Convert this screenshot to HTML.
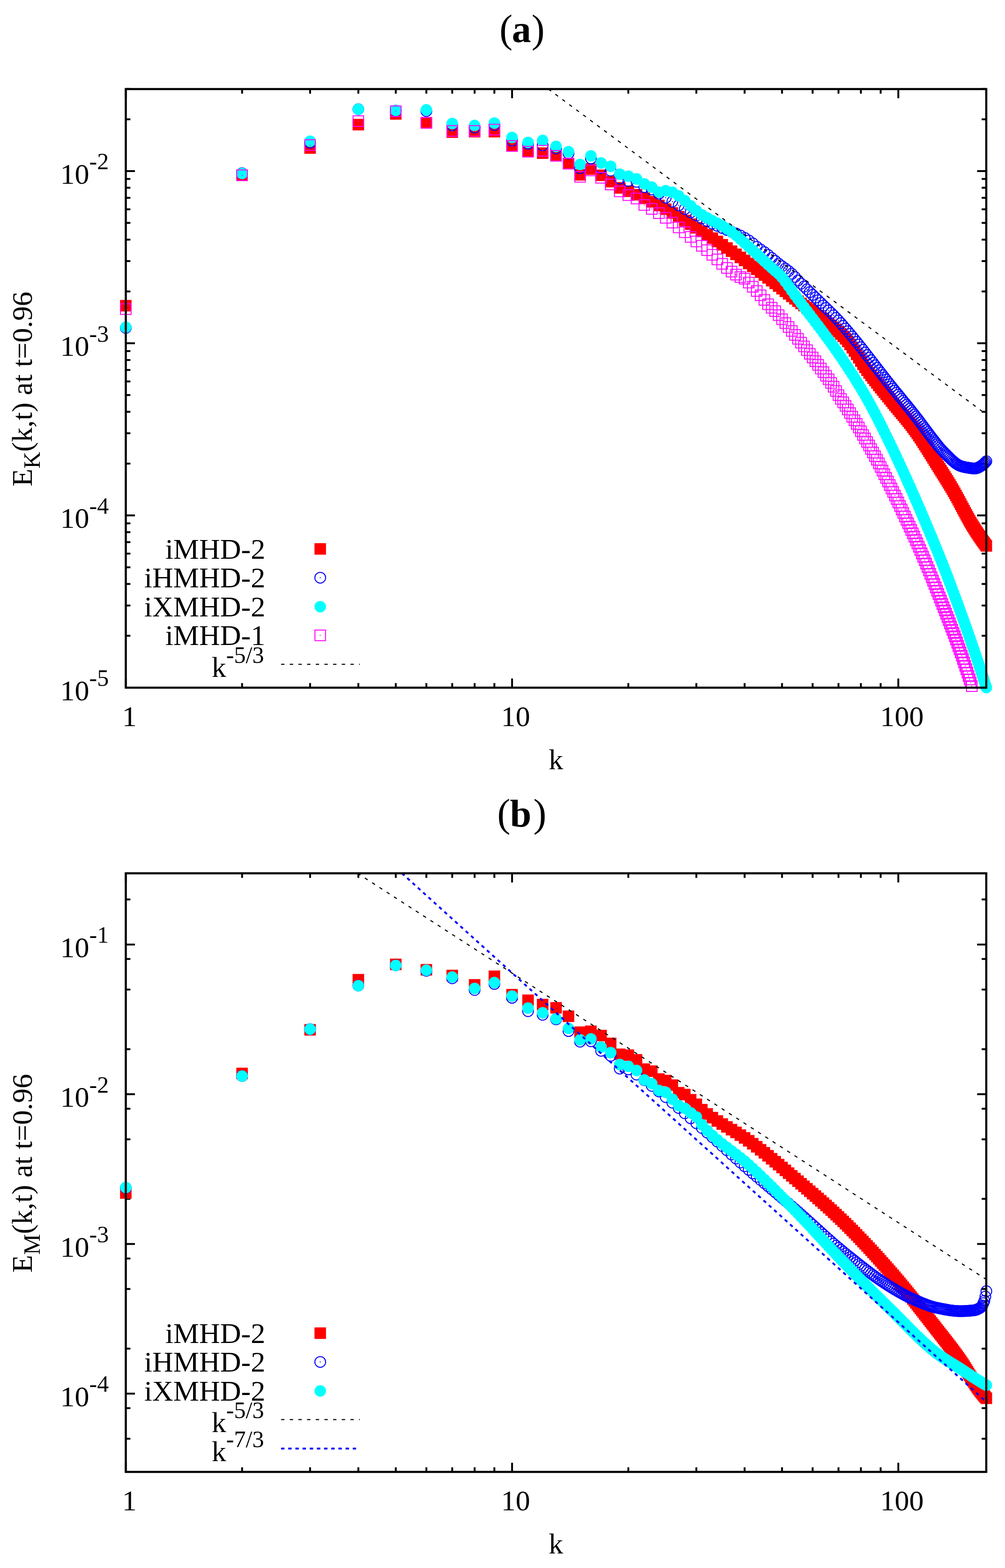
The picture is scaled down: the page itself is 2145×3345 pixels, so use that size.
<!DOCTYPE html><html><head><meta charset="utf-8"><title>Energy spectra</title><style>html,body{margin:0;padding:0;background:#fff;}svg{display:block;}text{font-family:'Liberation Serif', 'Times New Roman', serif;fill:#000;}</style></head><body><svg width="2145" height="3345" viewBox="0 0 2145 3345"><rect width="2145" height="3345" fill="#fff"/><path d="M268.5 1467V1447.5M268.5 190V209.5M516.67 1467V1457.2M516.67 190V199.8M661.84 1467V1457.2M661.84 190V199.8M764.84 1467V1457.2M764.84 190V199.8M844.73 1467V1457.2M844.73 190V199.8M910.01 1467V1457.2M910.01 190V199.8M965.2 1467V1457.2M965.2 190V199.8M1013.01 1467V1457.2M1013.01 190V199.8M1055.18 1467V1457.2M1055.18 190V199.8M1092.9 1467V1447.5M1092.9 190V209.5M1341.07 1467V1457.2M1341.07 190V199.8M1486.24 1467V1457.2M1486.24 190V199.8M1589.24 1467V1457.2M1589.24 190V199.8M1669.13 1467V1457.2M1669.13 190V199.8M1734.41 1467V1457.2M1734.41 190V199.8M1789.6 1467V1457.2M1789.6 190V199.8M1837.41 1467V1457.2M1837.41 190V199.8M1879.58 1467V1457.2M1879.58 190V199.8M1917.3 1467V1447.5M1917.3 190V209.5M268.5 1466.9H288M2105 1466.9H2085.5M268.5 1099.6H288M2105 1099.6H2085.5M268.5 732.3H288M2105 732.3H2085.5M268.5 365H288M2105 365H2085.5M268.5 1356.33H278.3M2105 1356.33H2095.2M268.5 1291.65H278.3M2105 1291.65H2095.2M268.5 1245.76H278.3M2105 1245.76H2095.2M268.5 1210.17H278.3M2105 1210.17H2095.2M268.5 1181.09H278.3M2105 1181.09H2095.2M268.5 1156.5H278.3M2105 1156.5H2095.2M268.5 1135.2H278.3M2105 1135.2H2095.2M268.5 1116.41H278.3M2105 1116.41H2095.2M268.5 989.03H278.3M2105 989.03H2095.2M268.5 924.35H278.3M2105 924.35H2095.2M268.5 878.46H278.3M2105 878.46H2095.2M268.5 842.87H278.3M2105 842.87H2095.2M268.5 813.79H278.3M2105 813.79H2095.2M268.5 789.2H278.3M2105 789.2H2095.2M268.5 767.9H278.3M2105 767.9H2095.2M268.5 749.11H278.3M2105 749.11H2095.2M268.5 621.73H278.3M2105 621.73H2095.2M268.5 557.05H278.3M2105 557.05H2095.2M268.5 511.16H278.3M2105 511.16H2095.2M268.5 475.57H278.3M2105 475.57H2095.2M268.5 446.49H278.3M2105 446.49H2095.2M268.5 421.9H278.3M2105 421.9H2095.2M268.5 400.6H278.3M2105 400.6H2095.2M268.5 381.81H278.3M2105 381.81H2095.2M268.5 254.43H278.3M2105 254.43H2095.2M268.5 189.75H278.3M2105 189.75H2095.2" stroke="#000" stroke-width="4" fill="none"/><g fill="#f00"><rect x="256.2" y="639.8" width="24.6" height="24.6"/><rect x="504.37" y="361.7" width="24.6" height="24.6"/><rect x="649.54" y="303.5" width="24.6" height="24.6"/><rect x="752.54" y="253.6" width="24.6" height="24.6"/><rect x="832.43" y="230.7" width="24.6" height="24.6"/><rect x="897.71" y="249.7" width="24.6" height="24.6"/><rect x="952.9" y="269.6" width="24.6" height="24.6"/><rect x="1000.71" y="268.6" width="24.6" height="24.6"/><rect x="1042.88" y="268.6" width="24.6" height="24.6"/><rect x="1080.6" y="298.7" width="24.6" height="24.6"/><rect x="1114.72" y="310.7" width="24.6" height="24.6"/><rect x="1145.88" y="314.4" width="24.6" height="24.6"/><rect x="1174.53" y="319.7" width="24.6" height="24.6"/><rect x="1201.07" y="336.7" width="24.6" height="24.6"/><rect x="1225.77" y="360.7" width="24.6" height="24.6"/><rect x="1248.88" y="348.3" width="24.6" height="24.6"/><rect x="1270.58" y="361.7" width="24.6" height="24.6"/><rect x="1291.05" y="375.1" width="24.6" height="24.6"/><rect x="1310.4" y="388.5" width="24.6" height="24.6"/><rect x="1328.77" y="395.7" width="24.6" height="24.6"/><rect x="1346.24" y="403.15" width="24.6" height="24.6"/><rect x="1362.89" y="410.63" width="24.6" height="24.6"/><rect x="1378.81" y="418.23" width="24.6" height="24.6"/><rect x="1394.05" y="426.01" width="24.6" height="24.6"/><rect x="1408.66" y="433.98" width="24.6" height="24.6"/><rect x="1422.7" y="442.05" width="24.6" height="24.6"/><rect x="1436.22" y="450.12" width="24.6" height="24.6"/><rect x="1449.24" y="458.13" width="24.6" height="24.6"/><rect x="1461.8" y="466.01" width="24.6" height="24.6"/><rect x="1473.94" y="473.71" width="24.6" height="24.6"/><rect x="1485.68" y="481.21" width="24.6" height="24.6"/><rect x="1497.05" y="488.52" width="24.6" height="24.6"/><rect x="1508.06" y="495.74" width="24.6" height="24.6"/><rect x="1518.75" y="502.86" width="24.6" height="24.6"/><rect x="1529.13" y="509.87" width="24.6" height="24.6"/><rect x="1539.22" y="516.78" width="24.6" height="24.6"/><rect x="1549.03" y="523.59" width="24.6" height="24.6"/><rect x="1558.57" y="530.28" width="24.6" height="24.6"/><rect x="1567.87" y="536.87" width="24.6" height="24.6"/><rect x="1576.94" y="543.34" width="24.6" height="24.6"/><rect x="1585.78" y="549.71" width="24.6" height="24.6"/><rect x="1594.41" y="555.99" width="24.6" height="24.6"/><rect x="1602.83" y="562.21" width="24.6" height="24.6"/><rect x="1611.06" y="568.37" width="24.6" height="24.6"/><rect x="1619.11" y="574.46" width="24.6" height="24.6"/><rect x="1626.98" y="580.47" width="24.6" height="24.6"/><rect x="1634.68" y="586.4" width="24.6" height="24.6"/><rect x="1642.22" y="592.23" width="24.6" height="24.6"/><rect x="1649.6" y="597.97" width="24.6" height="24.6"/><rect x="1656.83" y="603.61" width="24.6" height="24.6"/><rect x="1663.92" y="609.15" width="24.6" height="24.6"/><rect x="1670.87" y="614.58" width="24.6" height="24.6"/><rect x="1677.69" y="619.91" width="24.6" height="24.6"/><rect x="1684.39" y="625.12" width="24.6" height="24.6"/><rect x="1690.96" y="630.2" width="24.6" height="24.6"/><rect x="1697.41" y="635.04" width="24.6" height="24.6"/><rect x="1703.74" y="639.64" width="24.6" height="24.6"/><rect x="1709.97" y="644.07" width="24.6" height="24.6"/><rect x="1716.09" y="648.36" width="24.6" height="24.6"/><rect x="1722.11" y="652.55" width="24.6" height="24.6"/><rect x="1728.03" y="656.69" width="24.6" height="24.6"/><rect x="1733.85" y="660.78" width="24.6" height="24.6"/><rect x="1739.58" y="664.88" width="24.6" height="24.6"/><rect x="1745.21" y="669" width="24.6" height="24.6"/><rect x="1750.77" y="673.17" width="24.6" height="24.6"/><rect x="1756.23" y="677.4" width="24.6" height="24.6"/><rect x="1761.62" y="681.72" width="24.6" height="24.6"/><rect x="1766.92" y="686.15" width="24.6" height="24.6"/><rect x="1772.15" y="690.7" width="24.6" height="24.6"/><rect x="1777.3" y="695.38" width="24.6" height="24.6"/><rect x="1782.38" y="700.21" width="24.6" height="24.6"/><rect x="1787.38" y="705.2" width="24.6" height="24.6"/><rect x="1792.32" y="710.37" width="24.6" height="24.6"/><rect x="1797.19" y="716.09" width="24.6" height="24.6"/><rect x="1802" y="722.45" width="24.6" height="24.6"/><rect x="1806.74" y="729.27" width="24.6" height="24.6"/><rect x="1811.42" y="736.39" width="24.6" height="24.6"/><rect x="1816.04" y="743.65" width="24.6" height="24.6"/><rect x="1820.6" y="750.91" width="24.6" height="24.6"/><rect x="1825.11" y="758.05" width="24.6" height="24.6"/><rect x="1829.56" y="764.93" width="24.6" height="24.6"/><rect x="1833.95" y="771.44" width="24.6" height="24.6"/><rect x="1838.29" y="777.5" width="24.6" height="24.6"/><rect x="1842.58" y="783.23" width="24.6" height="24.6"/><rect x="1846.81" y="788.8" width="24.6" height="24.6"/><rect x="1851" y="794.22" width="24.6" height="24.6"/><rect x="1855.14" y="799.5" width="24.6" height="24.6"/><rect x="1859.23" y="804.66" width="24.6" height="24.6"/><rect x="1863.28" y="809.72" width="24.6" height="24.6"/><rect x="1867.28" y="814.69" width="24.6" height="24.6"/><rect x="1871.23" y="819.58" width="24.6" height="24.6"/><rect x="1875.15" y="824.41" width="24.6" height="24.6"/><rect x="1879.02" y="829.19" width="24.6" height="24.6"/><rect x="1882.85" y="833.92" width="24.6" height="24.6"/><rect x="1886.64" y="838.62" width="24.6" height="24.6"/><rect x="1890.38" y="843.29" width="24.6" height="24.6"/><rect x="1894.09" y="847.83" width="24.6" height="24.6"/><rect x="1897.77" y="852.27" width="24.6" height="24.6"/><rect x="1901.4" y="856.62" width="24.6" height="24.6"/><rect x="1905" y="860.9" width="24.6" height="24.6"/><rect x="1908.56" y="865.12" width="24.6" height="24.6"/><rect x="1912.09" y="869.31" width="24.6" height="24.6"/><rect x="1915.58" y="873.49" width="24.6" height="24.6"/><rect x="1919.04" y="877.66" width="24.6" height="24.6"/><rect x="1922.47" y="881.84" width="24.6" height="24.6"/><rect x="1925.86" y="886.05" width="24.6" height="24.6"/><rect x="1929.22" y="890.29" width="24.6" height="24.6"/><rect x="1932.55" y="894.59" width="24.6" height="24.6"/><rect x="1935.85" y="898.94" width="24.6" height="24.6"/><rect x="1939.12" y="903.37" width="24.6" height="24.6"/><rect x="1942.36" y="907.87" width="24.6" height="24.6"/><rect x="1945.58" y="912.45" width="24.6" height="24.6"/><rect x="1948.76" y="917.08" width="24.6" height="24.6"/><rect x="1951.91" y="921.76" width="24.6" height="24.6"/><rect x="1955.04" y="926.47" width="24.6" height="24.6"/><rect x="1958.14" y="931.22" width="24.6" height="24.6"/><rect x="1961.21" y="935.98" width="24.6" height="24.6"/><rect x="1964.26" y="940.75" width="24.6" height="24.6"/><rect x="1967.28" y="945.53" width="24.6" height="24.6"/><rect x="1970.28" y="950.3" width="24.6" height="24.6"/><rect x="1973.25" y="955.05" width="24.6" height="24.6"/><rect x="1976.2" y="959.79" width="24.6" height="24.6"/><rect x="1979.12" y="964.5" width="24.6" height="24.6"/><rect x="1982.02" y="969.18" width="24.6" height="24.6"/><rect x="1984.89" y="973.82" width="24.6" height="24.6"/><rect x="1987.75" y="978.41" width="24.6" height="24.6"/><rect x="1990.58" y="982.96" width="24.6" height="24.6"/><rect x="1993.38" y="987.45" width="24.6" height="24.6"/><rect x="1996.17" y="991.88" width="24.6" height="24.6"/><rect x="1998.93" y="996.27" width="24.6" height="24.6"/><rect x="2001.68" y="1000.63" width="24.6" height="24.6"/><rect x="2004.4" y="1004.97" width="24.6" height="24.6"/><rect x="2007.1" y="1009.29" width="24.6" height="24.6"/><rect x="2009.79" y="1013.62" width="24.6" height="24.6"/><rect x="2012.45" y="1017.94" width="24.6" height="24.6"/><rect x="2015.09" y="1022.28" width="24.6" height="24.6"/><rect x="2017.71" y="1026.64" width="24.6" height="24.6"/><rect x="2020.32" y="1031.03" width="24.6" height="24.6"/><rect x="2022.9" y="1035.46" width="24.6" height="24.6"/><rect x="2025.47" y="1039.97" width="24.6" height="24.6"/><rect x="2028.02" y="1044.56" width="24.6" height="24.6"/><rect x="2030.55" y="1049.19" width="24.6" height="24.6"/><rect x="2033.06" y="1053.86" width="24.6" height="24.6"/><rect x="2035.55" y="1058.54" width="24.6" height="24.6"/><rect x="2038.03" y="1063.22" width="24.6" height="24.6"/><rect x="2040.49" y="1067.88" width="24.6" height="24.6"/><rect x="2042.94" y="1072.51" width="24.6" height="24.6"/><rect x="2045.36" y="1077.09" width="24.6" height="24.6"/><rect x="2047.77" y="1081.61" width="24.6" height="24.6"/><rect x="2050.17" y="1086.05" width="24.6" height="24.6"/><rect x="2052.55" y="1090.4" width="24.6" height="24.6"/><rect x="2054.91" y="1094.65" width="24.6" height="24.6"/><rect x="2057.26" y="1098.79" width="24.6" height="24.6"/><rect x="2059.59" y="1102.8" width="24.6" height="24.6"/><rect x="2061.91" y="1106.67" width="24.6" height="24.6"/><rect x="2064.21" y="1110.4" width="24.6" height="24.6"/><rect x="2066.5" y="1114.04" width="24.6" height="24.6"/><rect x="2068.77" y="1117.61" width="24.6" height="24.6"/><rect x="2071.03" y="1121.1" width="24.6" height="24.6"/><rect x="2073.28" y="1124.52" width="24.6" height="24.6"/><rect x="2075.51" y="1127.87" width="24.6" height="24.6"/><rect x="2077.72" y="1131.15" width="24.6" height="24.6"/><rect x="2079.93" y="1134.36" width="24.6" height="24.6"/><rect x="2082.12" y="1137.5" width="24.6" height="24.6"/><rect x="2084.29" y="1140.58" width="24.6" height="24.6"/><rect x="2086.46" y="1143.59" width="24.6" height="24.6"/><rect x="2088.61" y="1146.54" width="24.6" height="24.6"/><rect x="2090.74" y="1149.43" width="24.6" height="24.6"/><rect x="2092.87" y="1152.26" width="24.6" height="24.6"/></g><g fill="none" stroke="#00f" stroke-width="2"><circle cx="268.5" cy="699.4" r="11.5"/><circle cx="516.67" cy="369.5" r="11.5"/><circle cx="661.84" cy="304.4" r="11.5"/><circle cx="764.84" cy="233" r="11.5"/><circle cx="844.73" cy="236" r="11.5"/><circle cx="910.01" cy="237" r="11.5"/><circle cx="965.2" cy="267.4" r="11.5"/><circle cx="1013.01" cy="272.2" r="11.5"/><circle cx="1055.18" cy="266.4" r="11.5"/><circle cx="1092.9" cy="300.1" r="11.5"/><circle cx="1127.02" cy="306.7" r="11.5"/><circle cx="1158.18" cy="310.2" r="11.5"/><circle cx="1186.83" cy="316.7" r="11.5"/><circle cx="1213.37" cy="327.4" r="11.5"/><circle cx="1238.07" cy="358.9" r="11.5"/><circle cx="1261.18" cy="338.1" r="11.5"/><circle cx="1282.88" cy="358.2" r="11.5"/><circle cx="1303.35" cy="364" r="11.5"/><circle cx="1322.7" cy="380.9" r="11.5"/><circle cx="1341.07" cy="385.8" r="11.5"/><circle cx="1358.54" cy="387.8" r="11.5"/><circle cx="1375.19" cy="399.1" r="11.5"/><circle cx="1391.11" cy="404.3" r="11.5"/><circle cx="1406.35" cy="413.1" r="11.5"/><circle cx="1420.96" cy="421.66" r="11.5"/><circle cx="1435" cy="430.04" r="11.5"/><circle cx="1448.52" cy="438.12" r="11.5"/><circle cx="1461.54" cy="445.81" r="11.5"/><circle cx="1474.1" cy="453.05" r="11.5"/><circle cx="1486.24" cy="459.78" r="11.5"/><circle cx="1497.98" cy="465.97" r="11.5"/><circle cx="1509.35" cy="471.64" r="11.5"/><circle cx="1520.36" cy="476.9" r="11.5"/><circle cx="1531.05" cy="481.79" r="11.5"/><circle cx="1541.43" cy="486.36" r="11.5"/><circle cx="1551.52" cy="490.62" r="11.5"/><circle cx="1561.33" cy="494.31" r="11.5"/><circle cx="1570.87" cy="497.98" r="11.5"/><circle cx="1580.17" cy="502.38" r="11.5"/><circle cx="1589.24" cy="507.4" r="11.5"/><circle cx="1598.08" cy="512.93" r="11.5"/><circle cx="1606.71" cy="519.23" r="11.5"/><circle cx="1615.13" cy="526.38" r="11.5"/><circle cx="1623.36" cy="532.35" r="11.5"/><circle cx="1631.41" cy="537.83" r="11.5"/><circle cx="1639.28" cy="543.85" r="11.5"/><circle cx="1646.98" cy="550.23" r="11.5"/><circle cx="1654.52" cy="556.6" r="11.5"/><circle cx="1661.9" cy="562.62" r="11.5"/><circle cx="1669.13" cy="568.01" r="11.5"/><circle cx="1676.22" cy="573.04" r="11.5"/><circle cx="1683.17" cy="578.24" r="11.5"/><circle cx="1689.99" cy="584.04" r="11.5"/><circle cx="1696.69" cy="590.88" r="11.5"/><circle cx="1703.26" cy="598.13" r="11.5"/><circle cx="1709.71" cy="605.01" r="11.5"/><circle cx="1716.04" cy="611.26" r="11.5"/><circle cx="1722.27" cy="617.26" r="11.5"/><circle cx="1728.39" cy="623.18" r="11.5"/><circle cx="1734.41" cy="629.06" r="11.5"/><circle cx="1740.33" cy="634.85" r="11.5"/><circle cx="1746.15" cy="640.55" r="11.5"/><circle cx="1751.88" cy="646.17" r="11.5"/><circle cx="1757.51" cy="651.71" r="11.5"/><circle cx="1763.07" cy="657.09" r="11.5"/><circle cx="1768.53" cy="662.35" r="11.5"/><circle cx="1773.92" cy="667.57" r="11.5"/><circle cx="1779.22" cy="672.84" r="11.5"/><circle cx="1784.45" cy="678.25" r="11.5"/><circle cx="1789.6" cy="683.81" r="11.5"/><circle cx="1794.68" cy="689.46" r="11.5"/><circle cx="1799.68" cy="695.17" r="11.5"/><circle cx="1804.62" cy="700.92" r="11.5"/><circle cx="1809.49" cy="706.68" r="11.5"/><circle cx="1814.3" cy="712.41" r="11.5"/><circle cx="1819.04" cy="718.09" r="11.5"/><circle cx="1823.72" cy="723.76" r="11.5"/><circle cx="1828.34" cy="729.42" r="11.5"/><circle cx="1832.9" cy="735.09" r="11.5"/><circle cx="1837.41" cy="740.74" r="11.5"/><circle cx="1841.86" cy="746.37" r="11.5"/><circle cx="1846.25" cy="751.97" r="11.5"/><circle cx="1850.59" cy="757.54" r="11.5"/><circle cx="1854.88" cy="763.06" r="11.5"/><circle cx="1859.11" cy="768.54" r="11.5"/><circle cx="1863.3" cy="773.96" r="11.5"/><circle cx="1867.44" cy="779.33" r="11.5"/><circle cx="1871.53" cy="784.64" r="11.5"/><circle cx="1875.58" cy="789.88" r="11.5"/><circle cx="1879.58" cy="795.04" r="11.5"/><circle cx="1883.53" cy="800.14" r="11.5"/><circle cx="1887.45" cy="805.16" r="11.5"/><circle cx="1891.32" cy="810.09" r="11.5"/><circle cx="1895.15" cy="814.95" r="11.5"/><circle cx="1898.94" cy="819.72" r="11.5"/><circle cx="1902.68" cy="824.4" r="11.5"/><circle cx="1906.39" cy="828.99" r="11.5"/><circle cx="1910.07" cy="833.51" r="11.5"/><circle cx="1913.7" cy="837.96" r="11.5"/><circle cx="1917.3" cy="842.35" r="11.5"/><circle cx="1920.86" cy="846.68" r="11.5"/><circle cx="1924.39" cy="850.97" r="11.5"/><circle cx="1927.88" cy="855.22" r="11.5"/><circle cx="1931.34" cy="859.44" r="11.5"/><circle cx="1934.77" cy="863.63" r="11.5"/><circle cx="1938.16" cy="867.8" r="11.5"/><circle cx="1941.52" cy="871.95" r="11.5"/><circle cx="1944.85" cy="876.09" r="11.5"/><circle cx="1948.15" cy="880.22" r="11.5"/><circle cx="1951.42" cy="884.36" r="11.5"/><circle cx="1954.66" cy="888.51" r="11.5"/><circle cx="1957.88" cy="892.68" r="11.5"/><circle cx="1961.06" cy="896.87" r="11.5"/><circle cx="1964.21" cy="901.06" r="11.5"/><circle cx="1967.34" cy="905.24" r="11.5"/><circle cx="1970.44" cy="909.4" r="11.5"/><circle cx="1973.51" cy="913.53" r="11.5"/><circle cx="1976.56" cy="917.62" r="11.5"/><circle cx="1979.58" cy="921.67" r="11.5"/><circle cx="1982.58" cy="925.66" r="11.5"/><circle cx="1985.55" cy="929.59" r="11.5"/><circle cx="1988.5" cy="933.45" r="11.5"/><circle cx="1991.42" cy="937.23" r="11.5"/><circle cx="1994.32" cy="940.93" r="11.5"/><circle cx="1997.19" cy="944.54" r="11.5"/><circle cx="2000.05" cy="948.06" r="11.5"/><circle cx="2002.88" cy="951.54" r="11.5"/><circle cx="2005.68" cy="954.97" r="11.5"/><circle cx="2008.47" cy="958.24" r="11.5"/><circle cx="2011.23" cy="961.23" r="11.5"/><circle cx="2013.98" cy="963.97" r="11.5"/><circle cx="2016.7" cy="966.72" r="11.5"/><circle cx="2019.4" cy="969.48" r="11.5"/><circle cx="2022.09" cy="972.22" r="11.5"/><circle cx="2024.75" cy="974.91" r="11.5"/><circle cx="2027.39" cy="977.53" r="11.5"/><circle cx="2030.01" cy="980.05" r="11.5"/><circle cx="2032.62" cy="982.45" r="11.5"/><circle cx="2035.2" cy="984.71" r="11.5"/><circle cx="2037.77" cy="986.8" r="11.5"/><circle cx="2040.32" cy="988.72" r="11.5"/><circle cx="2042.85" cy="990.44" r="11.5"/><circle cx="2045.36" cy="991.94" r="11.5"/><circle cx="2047.85" cy="993.21" r="11.5"/><circle cx="2050.33" cy="994.22" r="11.5"/><circle cx="2052.79" cy="994.97" r="11.5"/><circle cx="2055.24" cy="995.56" r="11.5"/><circle cx="2057.66" cy="996.13" r="11.5"/><circle cx="2060.07" cy="996.66" r="11.5"/><circle cx="2062.47" cy="997.16" r="11.5"/><circle cx="2064.85" cy="997.62" r="11.5"/><circle cx="2067.21" cy="998.03" r="11.5"/><circle cx="2069.56" cy="998.39" r="11.5"/><circle cx="2071.89" cy="998.7" r="11.5"/><circle cx="2074.21" cy="998.95" r="11.5"/><circle cx="2076.51" cy="999.13" r="11.5"/><circle cx="2078.8" cy="999.25" r="11.5"/><circle cx="2081.07" cy="999.3" r="11.5"/><circle cx="2083.33" cy="999.12" r="11.5"/><circle cx="2085.58" cy="998.52" r="11.5"/><circle cx="2087.81" cy="997.58" r="11.5"/><circle cx="2090.02" cy="996.41" r="11.5"/><circle cx="2092.23" cy="995.08" r="11.5"/><circle cx="2094.42" cy="993.7" r="11.5"/><circle cx="2096.59" cy="992.31" r="11.5"/><circle cx="2098.76" cy="990.61" r="11.5"/><circle cx="2100.91" cy="988.61" r="11.5"/><circle cx="2103.04" cy="986.39" r="11.5"/><circle cx="2105.17" cy="984.03" r="11.5"/></g><g fill="#00f"><rect x="267.5" y="698.4" width="2" height="2"/><rect x="515.67" y="368.5" width="2" height="2"/><rect x="660.84" y="303.4" width="2" height="2"/><rect x="763.84" y="232" width="2" height="2"/><rect x="843.73" y="235" width="2" height="2"/><rect x="909.01" y="236" width="2" height="2"/><rect x="964.2" y="266.4" width="2" height="2"/><rect x="1012.01" y="271.2" width="2" height="2"/><rect x="1054.18" y="265.4" width="2" height="2"/><rect x="1091.9" y="299.1" width="2" height="2"/><rect x="1126.02" y="305.7" width="2" height="2"/><rect x="1157.18" y="309.2" width="2" height="2"/><rect x="1185.83" y="315.7" width="2" height="2"/><rect x="1212.37" y="326.4" width="2" height="2"/><rect x="1237.07" y="357.9" width="2" height="2"/><rect x="1260.18" y="337.1" width="2" height="2"/><rect x="1281.88" y="357.2" width="2" height="2"/><rect x="1302.35" y="363" width="2" height="2"/><rect x="1321.7" y="379.9" width="2" height="2"/><rect x="1340.07" y="384.8" width="2" height="2"/><rect x="1357.54" y="386.8" width="2" height="2"/><rect x="1374.19" y="398.1" width="2" height="2"/><rect x="1390.11" y="403.3" width="2" height="2"/><rect x="1405.35" y="412.1" width="2" height="2"/><rect x="1419.96" y="420.66" width="2" height="2"/><rect x="1434" y="429.04" width="2" height="2"/><rect x="1447.52" y="437.12" width="2" height="2"/><rect x="1460.54" y="444.81" width="2" height="2"/><rect x="1473.1" y="452.05" width="2" height="2"/><rect x="1485.24" y="458.78" width="2" height="2"/><rect x="1496.98" y="464.97" width="2" height="2"/><rect x="1508.35" y="470.64" width="2" height="2"/><rect x="1519.36" y="475.9" width="2" height="2"/><rect x="1530.05" y="480.79" width="2" height="2"/><rect x="1540.43" y="485.36" width="2" height="2"/><rect x="1550.52" y="489.62" width="2" height="2"/><rect x="1560.33" y="493.31" width="2" height="2"/><rect x="1569.87" y="496.98" width="2" height="2"/><rect x="1579.17" y="501.38" width="2" height="2"/><rect x="1588.24" y="506.4" width="2" height="2"/><rect x="1597.08" y="511.93" width="2" height="2"/><rect x="1605.71" y="518.23" width="2" height="2"/><rect x="1614.13" y="525.38" width="2" height="2"/><rect x="1622.36" y="531.35" width="2" height="2"/><rect x="1630.41" y="536.83" width="2" height="2"/><rect x="1638.28" y="542.85" width="2" height="2"/><rect x="1645.98" y="549.23" width="2" height="2"/><rect x="1653.52" y="555.6" width="2" height="2"/><rect x="1660.9" y="561.62" width="2" height="2"/><rect x="1668.13" y="567.01" width="2" height="2"/><rect x="1675.22" y="572.04" width="2" height="2"/><rect x="1682.17" y="577.24" width="2" height="2"/><rect x="1688.99" y="583.04" width="2" height="2"/><rect x="1695.69" y="589.88" width="2" height="2"/><rect x="1702.26" y="597.13" width="2" height="2"/><rect x="1708.71" y="604.01" width="2" height="2"/><rect x="1715.04" y="610.26" width="2" height="2"/><rect x="1721.27" y="616.26" width="2" height="2"/><rect x="1727.39" y="622.18" width="2" height="2"/><rect x="1733.41" y="628.06" width="2" height="2"/><rect x="1739.33" y="633.85" width="2" height="2"/><rect x="1745.15" y="639.55" width="2" height="2"/><rect x="1750.88" y="645.17" width="2" height="2"/><rect x="1756.51" y="650.71" width="2" height="2"/><rect x="1762.07" y="656.09" width="2" height="2"/><rect x="1767.53" y="661.35" width="2" height="2"/><rect x="1772.92" y="666.57" width="2" height="2"/><rect x="1778.22" y="671.84" width="2" height="2"/><rect x="1783.45" y="677.25" width="2" height="2"/><rect x="1788.6" y="682.81" width="2" height="2"/><rect x="1793.68" y="688.46" width="2" height="2"/><rect x="1798.68" y="694.17" width="2" height="2"/><rect x="1803.62" y="699.92" width="2" height="2"/><rect x="1808.49" y="705.68" width="2" height="2"/><rect x="1813.3" y="711.41" width="2" height="2"/><rect x="1818.04" y="717.09" width="2" height="2"/><rect x="1822.72" y="722.76" width="2" height="2"/><rect x="1827.34" y="728.42" width="2" height="2"/><rect x="1831.9" y="734.09" width="2" height="2"/><rect x="1836.41" y="739.74" width="2" height="2"/><rect x="1840.86" y="745.37" width="2" height="2"/><rect x="1845.25" y="750.97" width="2" height="2"/><rect x="1849.59" y="756.54" width="2" height="2"/><rect x="1853.88" y="762.06" width="2" height="2"/><rect x="1858.11" y="767.54" width="2" height="2"/><rect x="1862.3" y="772.96" width="2" height="2"/><rect x="1866.44" y="778.33" width="2" height="2"/><rect x="1870.53" y="783.64" width="2" height="2"/><rect x="1874.58" y="788.88" width="2" height="2"/><rect x="1878.58" y="794.04" width="2" height="2"/><rect x="1882.53" y="799.14" width="2" height="2"/><rect x="1886.45" y="804.16" width="2" height="2"/><rect x="1890.32" y="809.09" width="2" height="2"/><rect x="1894.15" y="813.95" width="2" height="2"/><rect x="1897.94" y="818.72" width="2" height="2"/><rect x="1901.68" y="823.4" width="2" height="2"/><rect x="1905.39" y="827.99" width="2" height="2"/><rect x="1909.07" y="832.51" width="2" height="2"/><rect x="1912.7" y="836.96" width="2" height="2"/><rect x="1916.3" y="841.35" width="2" height="2"/><rect x="1919.86" y="845.68" width="2" height="2"/><rect x="1923.39" y="849.97" width="2" height="2"/><rect x="1926.88" y="854.22" width="2" height="2"/><rect x="1930.34" y="858.44" width="2" height="2"/><rect x="1933.77" y="862.63" width="2" height="2"/><rect x="1937.16" y="866.8" width="2" height="2"/><rect x="1940.52" y="870.95" width="2" height="2"/><rect x="1943.85" y="875.09" width="2" height="2"/><rect x="1947.15" y="879.22" width="2" height="2"/><rect x="1950.42" y="883.36" width="2" height="2"/><rect x="1953.66" y="887.51" width="2" height="2"/><rect x="1956.88" y="891.68" width="2" height="2"/><rect x="1960.06" y="895.87" width="2" height="2"/><rect x="1963.21" y="900.06" width="2" height="2"/><rect x="1966.34" y="904.24" width="2" height="2"/><rect x="1969.44" y="908.4" width="2" height="2"/><rect x="1972.51" y="912.53" width="2" height="2"/><rect x="1975.56" y="916.62" width="2" height="2"/><rect x="1978.58" y="920.67" width="2" height="2"/><rect x="1981.58" y="924.66" width="2" height="2"/><rect x="1984.55" y="928.59" width="2" height="2"/><rect x="1987.5" y="932.45" width="2" height="2"/><rect x="1990.42" y="936.23" width="2" height="2"/><rect x="1993.32" y="939.93" width="2" height="2"/><rect x="1996.19" y="943.54" width="2" height="2"/><rect x="1999.05" y="947.06" width="2" height="2"/><rect x="2001.88" y="950.54" width="2" height="2"/><rect x="2004.68" y="953.97" width="2" height="2"/><rect x="2007.47" y="957.24" width="2" height="2"/><rect x="2010.23" y="960.23" width="2" height="2"/><rect x="2012.98" y="962.97" width="2" height="2"/><rect x="2015.7" y="965.72" width="2" height="2"/><rect x="2018.4" y="968.48" width="2" height="2"/><rect x="2021.09" y="971.22" width="2" height="2"/><rect x="2023.75" y="973.91" width="2" height="2"/><rect x="2026.39" y="976.53" width="2" height="2"/><rect x="2029.01" y="979.05" width="2" height="2"/><rect x="2031.62" y="981.45" width="2" height="2"/><rect x="2034.2" y="983.71" width="2" height="2"/><rect x="2036.77" y="985.8" width="2" height="2"/><rect x="2039.32" y="987.72" width="2" height="2"/><rect x="2041.85" y="989.44" width="2" height="2"/><rect x="2044.36" y="990.94" width="2" height="2"/><rect x="2046.85" y="992.21" width="2" height="2"/><rect x="2049.33" y="993.22" width="2" height="2"/><rect x="2051.79" y="993.97" width="2" height="2"/><rect x="2054.24" y="994.56" width="2" height="2"/><rect x="2056.66" y="995.13" width="2" height="2"/><rect x="2059.07" y="995.66" width="2" height="2"/><rect x="2061.47" y="996.16" width="2" height="2"/><rect x="2063.85" y="996.62" width="2" height="2"/><rect x="2066.21" y="997.03" width="2" height="2"/><rect x="2068.56" y="997.39" width="2" height="2"/><rect x="2070.89" y="997.7" width="2" height="2"/><rect x="2073.21" y="997.95" width="2" height="2"/><rect x="2075.51" y="998.13" width="2" height="2"/><rect x="2077.8" y="998.25" width="2" height="2"/><rect x="2080.07" y="998.3" width="2" height="2"/><rect x="2082.33" y="998.12" width="2" height="2"/><rect x="2084.58" y="997.52" width="2" height="2"/><rect x="2086.81" y="996.58" width="2" height="2"/><rect x="2089.02" y="995.41" width="2" height="2"/><rect x="2091.23" y="994.08" width="2" height="2"/><rect x="2093.42" y="992.7" width="2" height="2"/><rect x="2095.59" y="991.31" width="2" height="2"/><rect x="2097.76" y="989.61" width="2" height="2"/><rect x="2099.91" y="987.61" width="2" height="2"/><rect x="2102.04" y="985.39" width="2" height="2"/><rect x="2104.17" y="983.03" width="2" height="2"/></g><g fill="#0ff"><circle cx="268.5" cy="698.1" r="12.3"/><circle cx="516.67" cy="370" r="12.3"/><circle cx="661.84" cy="301.3" r="12.3"/><circle cx="764.84" cy="233" r="12.3"/><circle cx="844.73" cy="235.5" r="12.3"/><circle cx="910.01" cy="234.4" r="12.3"/><circle cx="965.2" cy="263.5" r="12.3"/><circle cx="1013.01" cy="267.6" r="12.3"/><circle cx="1055.18" cy="262.5" r="12.3"/><circle cx="1092.9" cy="293.3" r="12.3"/><circle cx="1127.02" cy="303.7" r="12.3"/><circle cx="1158.18" cy="299.6" r="12.3"/><circle cx="1186.83" cy="312.4" r="12.3"/><circle cx="1213.37" cy="323.5" r="12.3"/><circle cx="1238.07" cy="350.8" r="12.3"/><circle cx="1261.18" cy="332.5" r="12.3"/><circle cx="1282.88" cy="347.5" r="12.3"/><circle cx="1303.35" cy="354.7" r="12.3"/><circle cx="1322.7" cy="371.5" r="12.3"/><circle cx="1341.07" cy="375.8" r="12.3"/><circle cx="1358.54" cy="381.6" r="12.3"/><circle cx="1375.19" cy="392.3" r="12.3"/><circle cx="1391.11" cy="399.1" r="12.3"/><circle cx="1406.35" cy="409.8" r="12.3"/><circle cx="1420.96" cy="406.9" r="12.3"/><circle cx="1435" cy="410.05" r="12.3"/><circle cx="1448.52" cy="417.83" r="12.3"/><circle cx="1461.54" cy="428.11" r="12.3"/><circle cx="1474.1" cy="439.17" r="12.3"/><circle cx="1486.24" cy="449.59" r="12.3"/><circle cx="1497.98" cy="458.24" r="12.3"/><circle cx="1509.35" cy="464.88" r="12.3"/><circle cx="1520.36" cy="470.72" r="12.3"/><circle cx="1531.05" cy="476.24" r="12.3"/><circle cx="1541.43" cy="481.81" r="12.3"/><circle cx="1551.52" cy="487.76" r="12.3"/><circle cx="1561.33" cy="494.36" r="12.3"/><circle cx="1570.87" cy="501.89" r="12.3"/><circle cx="1580.17" cy="509.99" r="12.3"/><circle cx="1589.24" cy="518.25" r="12.3"/><circle cx="1598.08" cy="526.29" r="12.3"/><circle cx="1606.71" cy="534.04" r="12.3"/><circle cx="1615.13" cy="541.82" r="12.3"/><circle cx="1623.36" cy="549.54" r="12.3"/><circle cx="1631.41" cy="557.09" r="12.3"/><circle cx="1639.28" cy="564.38" r="12.3"/><circle cx="1646.98" cy="571.34" r="12.3"/><circle cx="1654.52" cy="577.72" r="12.3"/><circle cx="1661.9" cy="583.93" r="12.3"/><circle cx="1669.13" cy="591.71" r="12.3"/><circle cx="1676.22" cy="600.68" r="12.3"/><circle cx="1683.17" cy="610.29" r="12.3"/><circle cx="1689.99" cy="620.03" r="12.3"/><circle cx="1696.69" cy="629.49" r="12.3"/><circle cx="1703.26" cy="638.34" r="12.3"/><circle cx="1709.71" cy="646.9" r="12.3"/><circle cx="1716.04" cy="655.26" r="12.3"/><circle cx="1722.27" cy="663.44" r="12.3"/><circle cx="1728.39" cy="671.47" r="12.3"/><circle cx="1734.41" cy="679.37" r="12.3"/><circle cx="1740.33" cy="687.14" r="12.3"/><circle cx="1746.15" cy="694.82" r="12.3"/><circle cx="1751.88" cy="702.42" r="12.3"/><circle cx="1757.51" cy="709.95" r="12.3"/><circle cx="1763.07" cy="717.42" r="12.3"/><circle cx="1768.53" cy="724.85" r="12.3"/><circle cx="1773.92" cy="732.24" r="12.3"/><circle cx="1779.22" cy="739.61" r="12.3"/><circle cx="1784.45" cy="746.97" r="12.3"/><circle cx="1789.6" cy="754.32" r="12.3"/><circle cx="1794.68" cy="761.67" r="12.3"/><circle cx="1799.68" cy="769.03" r="12.3"/><circle cx="1804.62" cy="776.39" r="12.3"/><circle cx="1809.49" cy="783.75" r="12.3"/><circle cx="1814.3" cy="791.1" r="12.3"/><circle cx="1819.04" cy="798.47" r="12.3"/><circle cx="1823.72" cy="805.84" r="12.3"/><circle cx="1828.34" cy="813.24" r="12.3"/><circle cx="1832.9" cy="820.67" r="12.3"/><circle cx="1837.41" cy="828.12" r="12.3"/><circle cx="1841.86" cy="835.62" r="12.3"/><circle cx="1846.25" cy="843.15" r="12.3"/><circle cx="1850.59" cy="850.74" r="12.3"/><circle cx="1854.88" cy="858.39" r="12.3"/><circle cx="1859.11" cy="866.11" r="12.3"/><circle cx="1863.3" cy="873.9" r="12.3"/><circle cx="1867.44" cy="881.73" r="12.3"/><circle cx="1871.53" cy="889.6" r="12.3"/><circle cx="1875.58" cy="897.49" r="12.3"/><circle cx="1879.58" cy="905.39" r="12.3"/><circle cx="1883.53" cy="913.3" r="12.3"/><circle cx="1887.45" cy="921.2" r="12.3"/><circle cx="1891.32" cy="929.09" r="12.3"/><circle cx="1895.15" cy="936.95" r="12.3"/><circle cx="1898.94" cy="944.79" r="12.3"/><circle cx="1902.68" cy="952.59" r="12.3"/><circle cx="1906.39" cy="960.37" r="12.3"/><circle cx="1910.07" cy="968.12" r="12.3"/><circle cx="1913.7" cy="975.85" r="12.3"/><circle cx="1917.3" cy="983.55" r="12.3"/><circle cx="1920.86" cy="991.22" r="12.3"/><circle cx="1924.39" cy="998.87" r="12.3"/><circle cx="1927.88" cy="1006.49" r="12.3"/><circle cx="1931.34" cy="1014.08" r="12.3"/><circle cx="1934.77" cy="1021.65" r="12.3"/><circle cx="1938.16" cy="1029.18" r="12.3"/><circle cx="1941.52" cy="1036.7" r="12.3"/><circle cx="1944.85" cy="1044.18" r="12.3"/><circle cx="1948.15" cy="1051.64" r="12.3"/><circle cx="1951.42" cy="1059.06" r="12.3"/><circle cx="1954.66" cy="1066.46" r="12.3"/><circle cx="1957.88" cy="1073.84" r="12.3"/><circle cx="1961.06" cy="1081.18" r="12.3"/><circle cx="1964.21" cy="1088.5" r="12.3"/><circle cx="1967.34" cy="1095.78" r="12.3"/><circle cx="1970.44" cy="1103.04" r="12.3"/><circle cx="1973.51" cy="1110.28" r="12.3"/><circle cx="1976.56" cy="1117.48" r="12.3"/><circle cx="1979.58" cy="1124.66" r="12.3"/><circle cx="1982.58" cy="1131.81" r="12.3"/><circle cx="1985.55" cy="1138.93" r="12.3"/><circle cx="1988.5" cy="1146.02" r="12.3"/><circle cx="1991.42" cy="1153.08" r="12.3"/><circle cx="1994.32" cy="1160.12" r="12.3"/><circle cx="1997.19" cy="1167.13" r="12.3"/><circle cx="2000.05" cy="1174.11" r="12.3"/><circle cx="2002.88" cy="1181.09" r="12.3"/><circle cx="2005.68" cy="1188.07" r="12.3"/><circle cx="2008.47" cy="1195.06" r="12.3"/><circle cx="2011.23" cy="1202.05" r="12.3"/><circle cx="2013.98" cy="1209.05" r="12.3"/><circle cx="2016.7" cy="1216.04" r="12.3"/><circle cx="2019.4" cy="1223.03" r="12.3"/><circle cx="2022.09" cy="1230.02" r="12.3"/><circle cx="2024.75" cy="1237" r="12.3"/><circle cx="2027.39" cy="1243.96" r="12.3"/><circle cx="2030.01" cy="1250.92" r="12.3"/><circle cx="2032.62" cy="1257.86" r="12.3"/><circle cx="2035.2" cy="1264.78" r="12.3"/><circle cx="2037.77" cy="1271.69" r="12.3"/><circle cx="2040.32" cy="1278.58" r="12.3"/><circle cx="2042.85" cy="1285.45" r="12.3"/><circle cx="2045.36" cy="1292.29" r="12.3"/><circle cx="2047.85" cy="1299.11" r="12.3"/><circle cx="2050.33" cy="1305.91" r="12.3"/><circle cx="2052.79" cy="1312.7" r="12.3"/><circle cx="2055.24" cy="1319.47" r="12.3"/><circle cx="2057.66" cy="1326.25" r="12.3"/><circle cx="2060.07" cy="1333.01" r="12.3"/><circle cx="2062.47" cy="1339.77" r="12.3"/><circle cx="2064.85" cy="1346.52" r="12.3"/><circle cx="2067.21" cy="1353.25" r="12.3"/><circle cx="2069.56" cy="1359.99" r="12.3"/><circle cx="2071.89" cy="1366.71" r="12.3"/><circle cx="2074.21" cy="1373.42" r="12.3"/><circle cx="2076.51" cy="1380.12" r="12.3"/><circle cx="2078.8" cy="1386.81" r="12.3"/><circle cx="2081.07" cy="1393.48" r="12.3"/><circle cx="2083.33" cy="1400.15" r="12.3"/><circle cx="2085.58" cy="1406.8" r="12.3"/><circle cx="2087.81" cy="1413.44" r="12.3"/><circle cx="2090.02" cy="1420.07" r="12.3"/><circle cx="2092.23" cy="1426.71" r="12.3"/><circle cx="2094.42" cy="1433.39" r="12.3"/><circle cx="2096.59" cy="1440.09" r="12.3"/><circle cx="2098.76" cy="1446.8" r="12.3"/><circle cx="2100.91" cy="1453.51" r="12.3"/><circle cx="2103.04" cy="1460.22" r="12.3"/><circle cx="2105.17" cy="1466.9" r="12.3"/></g><g fill="none" stroke="#f0f" stroke-width="2"><rect x="257.2" y="648.2" width="22.6" height="22.6"/><rect x="505.37" y="362.5" width="22.6" height="22.6"/><rect x="650.54" y="298.1" width="22.6" height="22.6"/><rect x="753.54" y="247.1" width="22.6" height="22.6"/><rect x="833.43" y="226" width="22.6" height="22.6"/><rect x="898.71" y="250.7" width="22.6" height="22.6"/><rect x="953.9" y="268.1" width="22.6" height="22.6"/><rect x="1001.71" y="268.1" width="22.6" height="22.6"/><rect x="1043.88" y="265.2" width="22.6" height="22.6"/><rect x="1081.6" y="300.1" width="22.6" height="22.6"/><rect x="1115.72" y="312.3" width="22.6" height="22.6"/><rect x="1146.88" y="310.3" width="22.6" height="22.6"/><rect x="1175.53" y="321" width="22.6" height="22.6"/><rect x="1202.07" y="337.8" width="22.6" height="22.6"/><rect x="1226.77" y="365.9" width="22.6" height="22.6"/><rect x="1249.88" y="352.2" width="22.6" height="22.6"/><rect x="1271.58" y="368" width="22.6" height="22.6"/><rect x="1292.05" y="382.2" width="22.6" height="22.6"/><rect x="1311.4" y="397" width="22.6" height="22.6"/><rect x="1329.77" y="405" width="22.6" height="22.6"/><rect x="1347.24" y="412.2" width="22.6" height="22.6"/><rect x="1363.89" y="426" width="22.6" height="22.6"/><rect x="1379.81" y="434.3" width="22.6" height="22.6"/><rect x="1395.05" y="443.4" width="22.6" height="22.6"/><rect x="1409.66" y="453.33" width="22.6" height="22.6"/><rect x="1423.7" y="463.54" width="22.6" height="22.6"/><rect x="1437.22" y="473.83" width="22.6" height="22.6"/><rect x="1450.24" y="484.05" width="22.6" height="22.6"/><rect x="1462.8" y="494.07" width="22.6" height="22.6"/><rect x="1474.94" y="503.78" width="22.6" height="22.6"/><rect x="1486.68" y="513.11" width="22.6" height="22.6"/><rect x="1498.05" y="522.42" width="22.6" height="22.6"/><rect x="1509.06" y="532.23" width="22.6" height="22.6"/><rect x="1519.75" y="542.07" width="22.6" height="22.6"/><rect x="1530.13" y="551.54" width="22.6" height="22.6"/><rect x="1540.22" y="560.3" width="22.6" height="22.6"/><rect x="1550.03" y="568.06" width="22.6" height="22.6"/><rect x="1559.57" y="574.61" width="22.6" height="22.6"/><rect x="1568.87" y="579.73" width="22.6" height="22.6"/><rect x="1577.94" y="583.22" width="22.6" height="22.6"/><rect x="1586.78" y="591.58" width="22.6" height="22.6"/><rect x="1595.41" y="600.4" width="22.6" height="22.6"/><rect x="1603.83" y="609.45" width="22.6" height="22.6"/><rect x="1612.06" y="618.66" width="22.6" height="22.6"/><rect x="1620.11" y="628.47" width="22.6" height="22.6"/><rect x="1627.98" y="637.78" width="22.6" height="22.6"/><rect x="1635.68" y="645.18" width="22.6" height="22.6"/><rect x="1643.22" y="652.42" width="22.6" height="22.6"/><rect x="1650.6" y="660.96" width="22.6" height="22.6"/><rect x="1657.83" y="669.74" width="22.6" height="22.6"/><rect x="1664.92" y="677.97" width="22.6" height="22.6"/><rect x="1671.87" y="686.17" width="22.6" height="22.6"/><rect x="1678.69" y="694.68" width="22.6" height="22.6"/><rect x="1685.39" y="703.2" width="22.6" height="22.6"/><rect x="1691.96" y="711.52" width="22.6" height="22.6"/><rect x="1698.41" y="719.71" width="22.6" height="22.6"/><rect x="1704.74" y="727.72" width="22.6" height="22.6"/><rect x="1710.97" y="735.6" width="22.6" height="22.6"/><rect x="1717.09" y="743.49" width="22.6" height="22.6"/><rect x="1723.11" y="751.4" width="22.6" height="22.6"/><rect x="1729.03" y="759.28" width="22.6" height="22.6"/><rect x="1734.85" y="767.12" width="22.6" height="22.6"/><rect x="1740.58" y="774.94" width="22.6" height="22.6"/><rect x="1746.21" y="782.72" width="22.6" height="22.6"/><rect x="1751.77" y="790.36" width="22.6" height="22.6"/><rect x="1757.23" y="797.93" width="22.6" height="22.6"/><rect x="1762.62" y="805.65" width="22.6" height="22.6"/><rect x="1767.92" y="813.73" width="22.6" height="22.6"/><rect x="1773.15" y="822.73" width="22.6" height="22.6"/><rect x="1778.3" y="831.7" width="22.6" height="22.6"/><rect x="1783.38" y="839.6" width="22.6" height="22.6"/><rect x="1788.38" y="847.04" width="22.6" height="22.6"/><rect x="1793.32" y="854.54" width="22.6" height="22.6"/><rect x="1798.19" y="862.26" width="22.6" height="22.6"/><rect x="1803" y="870.03" width="22.6" height="22.6"/><rect x="1807.74" y="877.77" width="22.6" height="22.6"/><rect x="1812.42" y="885.41" width="22.6" height="22.6"/><rect x="1817.04" y="893.02" width="22.6" height="22.6"/><rect x="1821.6" y="900.71" width="22.6" height="22.6"/><rect x="1826.11" y="908.62" width="22.6" height="22.6"/><rect x="1830.56" y="916.52" width="22.6" height="22.6"/><rect x="1834.95" y="924.15" width="22.6" height="22.6"/><rect x="1839.29" y="931.61" width="22.6" height="22.6"/><rect x="1843.58" y="939.03" width="22.6" height="22.6"/><rect x="1847.81" y="946.52" width="22.6" height="22.6"/><rect x="1852" y="954.12" width="22.6" height="22.6"/><rect x="1856.14" y="961.77" width="22.6" height="22.6"/><rect x="1860.23" y="969.45" width="22.6" height="22.6"/><rect x="1864.28" y="977.16" width="22.6" height="22.6"/><rect x="1868.28" y="984.91" width="22.6" height="22.6"/><rect x="1872.23" y="992.72" width="22.6" height="22.6"/><rect x="1876.15" y="1000.51" width="22.6" height="22.6"/><rect x="1880.02" y="1008.23" width="22.6" height="22.6"/><rect x="1883.85" y="1015.85" width="22.6" height="22.6"/><rect x="1887.64" y="1023.39" width="22.6" height="22.6"/><rect x="1891.38" y="1030.87" width="22.6" height="22.6"/><rect x="1895.09" y="1038.32" width="22.6" height="22.6"/><rect x="1898.77" y="1045.76" width="22.6" height="22.6"/><rect x="1902.4" y="1053.2" width="22.6" height="22.6"/><rect x="1906" y="1060.68" width="22.6" height="22.6"/><rect x="1909.56" y="1068.18" width="22.6" height="22.6"/><rect x="1913.09" y="1075.67" width="22.6" height="22.6"/><rect x="1916.58" y="1083.12" width="22.6" height="22.6"/><rect x="1920.04" y="1090.49" width="22.6" height="22.6"/><rect x="1923.47" y="1097.77" width="22.6" height="22.6"/><rect x="1926.86" y="1104.98" width="22.6" height="22.6"/><rect x="1930.22" y="1112.14" width="22.6" height="22.6"/><rect x="1933.55" y="1119.27" width="22.6" height="22.6"/><rect x="1936.85" y="1126.4" width="22.6" height="22.6"/><rect x="1940.12" y="1133.55" width="22.6" height="22.6"/><rect x="1943.36" y="1140.71" width="22.6" height="22.6"/><rect x="1946.58" y="1147.86" width="22.6" height="22.6"/><rect x="1949.76" y="1155.01" width="22.6" height="22.6"/><rect x="1952.91" y="1162.17" width="22.6" height="22.6"/><rect x="1956.04" y="1169.35" width="22.6" height="22.6"/><rect x="1959.14" y="1176.56" width="22.6" height="22.6"/><rect x="1962.21" y="1183.79" width="22.6" height="22.6"/><rect x="1965.26" y="1191.05" width="22.6" height="22.6"/><rect x="1968.28" y="1198.32" width="22.6" height="22.6"/><rect x="1971.28" y="1205.6" width="22.6" height="22.6"/><rect x="1974.25" y="1212.87" width="22.6" height="22.6"/><rect x="1977.2" y="1220.14" width="22.6" height="22.6"/><rect x="1980.12" y="1227.4" width="22.6" height="22.6"/><rect x="1983.02" y="1234.64" width="22.6" height="22.6"/><rect x="1985.89" y="1241.84" width="22.6" height="22.6"/><rect x="1988.75" y="1248.99" width="22.6" height="22.6"/><rect x="1991.58" y="1256.09" width="22.6" height="22.6"/><rect x="1994.38" y="1263.14" width="22.6" height="22.6"/><rect x="1997.17" y="1270.15" width="22.6" height="22.6"/><rect x="1999.93" y="1277.13" width="22.6" height="22.6"/><rect x="2002.68" y="1284.09" width="22.6" height="22.6"/><rect x="2005.4" y="1291.01" width="22.6" height="22.6"/><rect x="2008.1" y="1297.92" width="22.6" height="22.6"/><rect x="2010.79" y="1304.81" width="22.6" height="22.6"/><rect x="2013.45" y="1311.69" width="22.6" height="22.6"/><rect x="2016.09" y="1318.56" width="22.6" height="22.6"/><rect x="2018.71" y="1325.43" width="22.6" height="22.6"/><rect x="2021.32" y="1332.3" width="22.6" height="22.6"/><rect x="2023.9" y="1339.17" width="22.6" height="22.6"/><rect x="2026.47" y="1346.05" width="22.6" height="22.6"/><rect x="2029.02" y="1352.94" width="22.6" height="22.6"/><rect x="2031.55" y="1359.84" width="22.6" height="22.6"/><rect x="2034.06" y="1366.75" width="22.6" height="22.6"/><rect x="2036.55" y="1373.68" width="22.6" height="22.6"/><rect x="2039.03" y="1380.64" width="22.6" height="22.6"/><rect x="2041.49" y="1387.66" width="22.6" height="22.6"/><rect x="2043.94" y="1394.77" width="22.6" height="22.6"/><rect x="2046.36" y="1401.95" width="22.6" height="22.6"/><rect x="2048.77" y="1409.17" width="22.6" height="22.6"/><rect x="2051.17" y="1416.41" width="22.6" height="22.6"/><rect x="2053.55" y="1423.67" width="22.6" height="22.6"/><rect x="2055.91" y="1430.91" width="22.6" height="22.6"/><rect x="2058.26" y="1438.13" width="22.6" height="22.6"/><rect x="2060.59" y="1445.3" width="22.6" height="22.6"/><rect x="2062.91" y="1452.41" width="22.6" height="22.6"/></g><g fill="#f0f"><rect x="267.5" y="658.5" width="2" height="2"/><rect x="515.67" y="372.8" width="2" height="2"/><rect x="660.84" y="308.4" width="2" height="2"/><rect x="763.84" y="257.4" width="2" height="2"/><rect x="843.73" y="236.3" width="2" height="2"/><rect x="909.01" y="261" width="2" height="2"/><rect x="964.2" y="278.4" width="2" height="2"/><rect x="1012.01" y="278.4" width="2" height="2"/><rect x="1054.18" y="275.5" width="2" height="2"/><rect x="1091.9" y="310.4" width="2" height="2"/><rect x="1126.02" y="322.6" width="2" height="2"/><rect x="1157.18" y="320.6" width="2" height="2"/><rect x="1185.83" y="331.3" width="2" height="2"/><rect x="1212.37" y="348.1" width="2" height="2"/><rect x="1237.07" y="376.2" width="2" height="2"/><rect x="1260.18" y="362.5" width="2" height="2"/><rect x="1281.88" y="378.3" width="2" height="2"/><rect x="1302.35" y="392.5" width="2" height="2"/><rect x="1321.7" y="407.3" width="2" height="2"/><rect x="1340.07" y="415.3" width="2" height="2"/><rect x="1357.54" y="422.5" width="2" height="2"/><rect x="1374.19" y="436.3" width="2" height="2"/><rect x="1390.11" y="444.6" width="2" height="2"/><rect x="1405.35" y="453.7" width="2" height="2"/><rect x="1419.96" y="463.63" width="2" height="2"/><rect x="1434" y="473.84" width="2" height="2"/><rect x="1447.52" y="484.13" width="2" height="2"/><rect x="1460.54" y="494.35" width="2" height="2"/><rect x="1473.1" y="504.37" width="2" height="2"/><rect x="1485.24" y="514.08" width="2" height="2"/><rect x="1496.98" y="523.41" width="2" height="2"/><rect x="1508.35" y="532.72" width="2" height="2"/><rect x="1519.36" y="542.53" width="2" height="2"/><rect x="1530.05" y="552.37" width="2" height="2"/><rect x="1540.43" y="561.84" width="2" height="2"/><rect x="1550.52" y="570.6" width="2" height="2"/><rect x="1560.33" y="578.36" width="2" height="2"/><rect x="1569.87" y="584.91" width="2" height="2"/><rect x="1579.17" y="590.03" width="2" height="2"/><rect x="1588.24" y="593.52" width="2" height="2"/><rect x="1597.08" y="601.88" width="2" height="2"/><rect x="1605.71" y="610.7" width="2" height="2"/><rect x="1614.13" y="619.75" width="2" height="2"/><rect x="1622.36" y="628.96" width="2" height="2"/><rect x="1630.41" y="638.77" width="2" height="2"/><rect x="1638.28" y="648.08" width="2" height="2"/><rect x="1645.98" y="655.48" width="2" height="2"/><rect x="1653.52" y="662.72" width="2" height="2"/><rect x="1660.9" y="671.26" width="2" height="2"/><rect x="1668.13" y="680.04" width="2" height="2"/><rect x="1675.22" y="688.27" width="2" height="2"/><rect x="1682.17" y="696.47" width="2" height="2"/><rect x="1688.99" y="704.98" width="2" height="2"/><rect x="1695.69" y="713.5" width="2" height="2"/><rect x="1702.26" y="721.82" width="2" height="2"/><rect x="1708.71" y="730.01" width="2" height="2"/><rect x="1715.04" y="738.02" width="2" height="2"/><rect x="1721.27" y="745.9" width="2" height="2"/><rect x="1727.39" y="753.79" width="2" height="2"/><rect x="1733.41" y="761.7" width="2" height="2"/><rect x="1739.33" y="769.58" width="2" height="2"/><rect x="1745.15" y="777.42" width="2" height="2"/><rect x="1750.88" y="785.24" width="2" height="2"/><rect x="1756.51" y="793.02" width="2" height="2"/><rect x="1762.07" y="800.66" width="2" height="2"/><rect x="1767.53" y="808.23" width="2" height="2"/><rect x="1772.92" y="815.95" width="2" height="2"/><rect x="1778.22" y="824.03" width="2" height="2"/><rect x="1783.45" y="833.03" width="2" height="2"/><rect x="1788.6" y="842" width="2" height="2"/><rect x="1793.68" y="849.9" width="2" height="2"/><rect x="1798.68" y="857.34" width="2" height="2"/><rect x="1803.62" y="864.84" width="2" height="2"/><rect x="1808.49" y="872.56" width="2" height="2"/><rect x="1813.3" y="880.33" width="2" height="2"/><rect x="1818.04" y="888.07" width="2" height="2"/><rect x="1822.72" y="895.71" width="2" height="2"/><rect x="1827.34" y="903.32" width="2" height="2"/><rect x="1831.9" y="911.01" width="2" height="2"/><rect x="1836.41" y="918.92" width="2" height="2"/><rect x="1840.86" y="926.82" width="2" height="2"/><rect x="1845.25" y="934.45" width="2" height="2"/><rect x="1849.59" y="941.91" width="2" height="2"/><rect x="1853.88" y="949.33" width="2" height="2"/><rect x="1858.11" y="956.82" width="2" height="2"/><rect x="1862.3" y="964.42" width="2" height="2"/><rect x="1866.44" y="972.07" width="2" height="2"/><rect x="1870.53" y="979.75" width="2" height="2"/><rect x="1874.58" y="987.46" width="2" height="2"/><rect x="1878.58" y="995.21" width="2" height="2"/><rect x="1882.53" y="1003.02" width="2" height="2"/><rect x="1886.45" y="1010.81" width="2" height="2"/><rect x="1890.32" y="1018.53" width="2" height="2"/><rect x="1894.15" y="1026.15" width="2" height="2"/><rect x="1897.94" y="1033.69" width="2" height="2"/><rect x="1901.68" y="1041.17" width="2" height="2"/><rect x="1905.39" y="1048.62" width="2" height="2"/><rect x="1909.07" y="1056.06" width="2" height="2"/><rect x="1912.7" y="1063.5" width="2" height="2"/><rect x="1916.3" y="1070.98" width="2" height="2"/><rect x="1919.86" y="1078.48" width="2" height="2"/><rect x="1923.39" y="1085.97" width="2" height="2"/><rect x="1926.88" y="1093.42" width="2" height="2"/><rect x="1930.34" y="1100.79" width="2" height="2"/><rect x="1933.77" y="1108.07" width="2" height="2"/><rect x="1937.16" y="1115.28" width="2" height="2"/><rect x="1940.52" y="1122.44" width="2" height="2"/><rect x="1943.85" y="1129.57" width="2" height="2"/><rect x="1947.15" y="1136.7" width="2" height="2"/><rect x="1950.42" y="1143.85" width="2" height="2"/><rect x="1953.66" y="1151.01" width="2" height="2"/><rect x="1956.88" y="1158.16" width="2" height="2"/><rect x="1960.06" y="1165.31" width="2" height="2"/><rect x="1963.21" y="1172.47" width="2" height="2"/><rect x="1966.34" y="1179.65" width="2" height="2"/><rect x="1969.44" y="1186.86" width="2" height="2"/><rect x="1972.51" y="1194.09" width="2" height="2"/><rect x="1975.56" y="1201.35" width="2" height="2"/><rect x="1978.58" y="1208.62" width="2" height="2"/><rect x="1981.58" y="1215.9" width="2" height="2"/><rect x="1984.55" y="1223.17" width="2" height="2"/><rect x="1987.5" y="1230.44" width="2" height="2"/><rect x="1990.42" y="1237.7" width="2" height="2"/><rect x="1993.32" y="1244.94" width="2" height="2"/><rect x="1996.19" y="1252.14" width="2" height="2"/><rect x="1999.05" y="1259.29" width="2" height="2"/><rect x="2001.88" y="1266.39" width="2" height="2"/><rect x="2004.68" y="1273.44" width="2" height="2"/><rect x="2007.47" y="1280.45" width="2" height="2"/><rect x="2010.23" y="1287.43" width="2" height="2"/><rect x="2012.98" y="1294.39" width="2" height="2"/><rect x="2015.7" y="1301.31" width="2" height="2"/><rect x="2018.4" y="1308.22" width="2" height="2"/><rect x="2021.09" y="1315.11" width="2" height="2"/><rect x="2023.75" y="1321.99" width="2" height="2"/><rect x="2026.39" y="1328.86" width="2" height="2"/><rect x="2029.01" y="1335.73" width="2" height="2"/><rect x="2031.62" y="1342.6" width="2" height="2"/><rect x="2034.2" y="1349.47" width="2" height="2"/><rect x="2036.77" y="1356.35" width="2" height="2"/><rect x="2039.32" y="1363.24" width="2" height="2"/><rect x="2041.85" y="1370.14" width="2" height="2"/><rect x="2044.36" y="1377.05" width="2" height="2"/><rect x="2046.85" y="1383.98" width="2" height="2"/><rect x="2049.33" y="1390.94" width="2" height="2"/><rect x="2051.79" y="1397.96" width="2" height="2"/><rect x="2054.24" y="1405.07" width="2" height="2"/><rect x="2056.66" y="1412.25" width="2" height="2"/><rect x="2059.07" y="1419.47" width="2" height="2"/><rect x="2061.47" y="1426.71" width="2" height="2"/><rect x="2063.85" y="1433.97" width="2" height="2"/><rect x="2066.21" y="1441.21" width="2" height="2"/><rect x="2068.56" y="1448.43" width="2" height="2"/><rect x="2070.89" y="1455.6" width="2" height="2"/><rect x="2073.21" y="1462.71" width="2" height="2"/></g><clipPath id="cp0"><rect x="268.5" y="190" width="1836.5" height="1277"/></clipPath><path clip-path="url(#cp0)" d="M1170.5 190L2105 883.92" stroke="#000" stroke-width="2.3" stroke-dasharray="7.2 11.3" fill="none"/><text x="566.2" y="1191.8" font-size="62" text-anchor="end">iMHD-2</text><g fill="#f00"><rect x="671.2" y="1158.7" width="24.6" height="24.6"/></g><text x="566.2" y="1253.2" font-size="62" text-anchor="end">iHMHD-2</text><g fill="none" stroke="#00f" stroke-width="2"><circle cx="683.5" cy="1232.4" r="11.5"/></g><g fill="#00f"><rect x="682.5" y="1231.4" width="2" height="2"/></g><text x="566.2" y="1315" font-size="62" text-anchor="end">iXMHD-2</text><g fill="#0ff"><circle cx="683.5" cy="1294.2" r="12.3"/></g><text x="566.2" y="1376.2" font-size="62" text-anchor="end">iMHD-1</text><g fill="none" stroke="#f0f" stroke-width="2"><rect x="672.2" y="1344.1" width="22.6" height="22.6"/></g><g fill="#f0f"><rect x="682.5" y="1354.4" width="2" height="2"/></g><text x="563.4" y="1443.8" font-size="62" text-anchor="end">k<tspan font-size="50" dy="-30.1">-5/3</tspan></text><path d="M599.9 1417.2H768" stroke="#000" stroke-width="2.2" stroke-dasharray="7.2 11.3" fill="none"/><rect x="268.5" y="190" width="1836.5" height="1277" fill="none" stroke="#000" stroke-width="4.5"/><text x="128.5" y="1493.7" font-size="62">10<tspan font-size="50" dy="-30.5">-5</tspan></text><text x="128.5" y="1126.4" font-size="62">10<tspan font-size="50" dy="-30.5">-4</tspan></text><text x="128.5" y="759.1" font-size="62">10<tspan font-size="50" dy="-30.5">-3</tspan></text><text x="128.5" y="391.8" font-size="62">10<tspan font-size="50" dy="-30.5">-2</tspan></text><text x="276.2" y="1548.9" font-size="62" text-anchor="middle">1</text><text x="1100.6" y="1548.9" font-size="62" text-anchor="middle">10</text><text x="1925" y="1548.9" font-size="62" text-anchor="middle">100</text><text x="1186.5" y="1640.8" font-size="62" text-anchor="middle">k</text><text transform="translate(67.7 830) rotate(-90)" font-size="62" text-anchor="middle">E<tspan font-size="50" dy="17.6">K</tspan><tspan dy="-17.6">(k,t) at t=0.96</tspan></text><text y="89.8" font-size="84"><tspan x="1066.1">(</tspan><tspan x="1092.4" font-size="82" font-weight="bold">a</tspan><tspan x="1134.5">)</tspan></text><path d="M268.5 3140V3120.5M268.5 1863V1882.5M516.67 3140V3130.2M516.67 1863V1872.8M661.84 3140V3130.2M661.84 1863V1872.8M764.84 3140V3130.2M764.84 1863V1872.8M844.73 3140V3130.2M844.73 1863V1872.8M910.01 3140V3130.2M910.01 1863V1872.8M965.2 3140V3130.2M965.2 1863V1872.8M1013.01 3140V3130.2M1013.01 1863V1872.8M1055.18 3140V3130.2M1055.18 1863V1872.8M1092.9 3140V3120.5M1092.9 1863V1882.5M1341.07 3140V3130.2M1341.07 1863V1872.8M1486.24 3140V3130.2M1486.24 1863V1872.8M1589.24 3140V3130.2M1589.24 1863V1872.8M1669.13 3140V3130.2M1669.13 1863V1872.8M1734.41 3140V3130.2M1734.41 1863V1872.8M1789.6 3140V3130.2M1789.6 1863V1872.8M1837.41 3140V3130.2M1837.41 1863V1872.8M1879.58 3140V3130.2M1879.58 1863V1872.8M1917.3 3140V3120.5M1917.3 1863V1882.5M268.5 2973.1H288M2105 2973.1H2085.5M268.5 2653.7H288M2105 2653.7H2085.5M268.5 2334.3H288M2105 2334.3H2085.5M268.5 2014.9H288M2105 2014.9H2085.5M268.5 3069.25H278.3M2105 3069.25H2095.2M268.5 3004.05H278.3M2105 3004.05H2095.2M268.5 2876.95H278.3M2105 2876.95H2095.2M268.5 2749.85H278.3M2105 2749.85H2095.2M268.5 2684.65H278.3M2105 2684.65H2095.2M268.5 2557.55H278.3M2105 2557.55H2095.2M268.5 2430.45H278.3M2105 2430.45H2095.2M268.5 2365.25H278.3M2105 2365.25H2095.2M268.5 2238.15H278.3M2105 2238.15H2095.2M268.5 2111.05H278.3M2105 2111.05H2095.2M268.5 2045.85H278.3M2105 2045.85H2095.2M268.5 1918.75H278.3M2105 1918.75H2095.2" stroke="#000" stroke-width="4" fill="none"/><g fill="#f00"><rect x="256.2" y="2532.7" width="24.6" height="24.6"/><rect x="504.37" y="2277.7" width="24.6" height="24.6"/><rect x="649.54" y="2184.6" width="24.6" height="24.6"/><rect x="752.54" y="2077.7" width="24.6" height="24.6"/><rect x="832.43" y="2045" width="24.6" height="24.6"/><rect x="897.71" y="2056.5" width="24.6" height="24.6"/><rect x="952.9" y="2068.7" width="24.6" height="24.6"/><rect x="1000.71" y="2088.7" width="24.6" height="24.6"/><rect x="1042.88" y="2070.4" width="24.6" height="24.6"/><rect x="1080.6" y="2109.7" width="24.6" height="24.6"/><rect x="1114.72" y="2121.6" width="24.6" height="24.6"/><rect x="1145.88" y="2130.7" width="24.6" height="24.6"/><rect x="1174.53" y="2137.7" width="24.6" height="24.6"/><rect x="1201.07" y="2155.7" width="24.6" height="24.6"/><rect x="1225.77" y="2189.7" width="24.6" height="24.6"/><rect x="1248.88" y="2187.7" width="24.6" height="24.6"/><rect x="1270.58" y="2196.8" width="24.6" height="24.6"/><rect x="1291.05" y="2213.6" width="24.6" height="24.6"/><rect x="1310.4" y="2236.8" width="24.6" height="24.6"/><rect x="1328.77" y="2238.7" width="24.6" height="24.6"/><rect x="1346.24" y="2248.7" width="24.6" height="24.6"/><rect x="1362.89" y="2268.5" width="24.6" height="24.6"/><rect x="1378.81" y="2272.8" width="24.6" height="24.6"/><rect x="1394.05" y="2289.6" width="24.6" height="24.6"/><rect x="1408.66" y="2292.9" width="24.6" height="24.6"/><rect x="1422.7" y="2302.6" width="24.6" height="24.6"/><rect x="1436.22" y="2318.8" width="24.6" height="24.6"/><rect x="1449.24" y="2322.7" width="24.6" height="24.6"/><rect x="1461.8" y="2333.8" width="24.6" height="24.6"/><rect x="1473.94" y="2343.5" width="24.6" height="24.6"/><rect x="1485.68" y="2354.94" width="24.6" height="24.6"/><rect x="1497.05" y="2364.04" width="24.6" height="24.6"/><rect x="1508.06" y="2371.97" width="24.6" height="24.6"/><rect x="1518.75" y="2379.09" width="24.6" height="24.6"/><rect x="1529.13" y="2385.6" width="24.6" height="24.6"/><rect x="1539.22" y="2391.72" width="24.6" height="24.6"/><rect x="1549.03" y="2397.61" width="24.6" height="24.6"/><rect x="1558.57" y="2403.4" width="24.6" height="24.6"/><rect x="1567.87" y="2409.21" width="24.6" height="24.6"/><rect x="1576.94" y="2415.15" width="24.6" height="24.6"/><rect x="1585.78" y="2421.31" width="24.6" height="24.6"/><rect x="1594.41" y="2427.67" width="24.6" height="24.6"/><rect x="1602.83" y="2434.08" width="24.6" height="24.6"/><rect x="1611.06" y="2440.5" width="24.6" height="24.6"/><rect x="1619.11" y="2446.92" width="24.6" height="24.6"/><rect x="1626.98" y="2453.31" width="24.6" height="24.6"/><rect x="1634.68" y="2459.66" width="24.6" height="24.6"/><rect x="1642.22" y="2465.95" width="24.6" height="24.6"/><rect x="1649.6" y="2472.17" width="24.6" height="24.6"/><rect x="1656.83" y="2478.31" width="24.6" height="24.6"/><rect x="1663.92" y="2484.36" width="24.6" height="24.6"/><rect x="1670.87" y="2490.3" width="24.6" height="24.6"/><rect x="1677.69" y="2496.14" width="24.6" height="24.6"/><rect x="1684.39" y="2501.87" width="24.6" height="24.6"/><rect x="1690.96" y="2507.48" width="24.6" height="24.6"/><rect x="1697.41" y="2512.98" width="24.6" height="24.6"/><rect x="1703.74" y="2518.39" width="24.6" height="24.6"/><rect x="1709.97" y="2523.72" width="24.6" height="24.6"/><rect x="1716.09" y="2528.97" width="24.6" height="24.6"/><rect x="1722.11" y="2534.15" width="24.6" height="24.6"/><rect x="1728.03" y="2539.27" width="24.6" height="24.6"/><rect x="1733.85" y="2544.35" width="24.6" height="24.6"/><rect x="1739.58" y="2549.37" width="24.6" height="24.6"/><rect x="1745.21" y="2554.36" width="24.6" height="24.6"/><rect x="1750.77" y="2559.31" width="24.6" height="24.6"/><rect x="1756.23" y="2564.24" width="24.6" height="24.6"/><rect x="1761.62" y="2569.14" width="24.6" height="24.6"/><rect x="1766.92" y="2574.02" width="24.6" height="24.6"/><rect x="1772.15" y="2578.88" width="24.6" height="24.6"/><rect x="1777.3" y="2583.73" width="24.6" height="24.6"/><rect x="1782.38" y="2588.56" width="24.6" height="24.6"/><rect x="1787.38" y="2593.39" width="24.6" height="24.6"/><rect x="1792.32" y="2598.22" width="24.6" height="24.6"/><rect x="1797.19" y="2603.03" width="24.6" height="24.6"/><rect x="1802" y="2607.83" width="24.6" height="24.6"/><rect x="1806.74" y="2612.62" width="24.6" height="24.6"/><rect x="1811.42" y="2617.39" width="24.6" height="24.6"/><rect x="1816.04" y="2622.14" width="24.6" height="24.6"/><rect x="1820.6" y="2626.88" width="24.6" height="24.6"/><rect x="1825.11" y="2631.6" width="24.6" height="24.6"/><rect x="1829.56" y="2636.29" width="24.6" height="24.6"/><rect x="1833.95" y="2640.97" width="24.6" height="24.6"/><rect x="1838.29" y="2645.62" width="24.6" height="24.6"/><rect x="1842.58" y="2650.25" width="24.6" height="24.6"/><rect x="1846.81" y="2654.85" width="24.6" height="24.6"/><rect x="1851" y="2659.44" width="24.6" height="24.6"/><rect x="1855.14" y="2663.99" width="24.6" height="24.6"/><rect x="1859.23" y="2668.52" width="24.6" height="24.6"/><rect x="1863.28" y="2673.03" width="24.6" height="24.6"/><rect x="1867.28" y="2677.5" width="24.6" height="24.6"/><rect x="1871.23" y="2681.95" width="24.6" height="24.6"/><rect x="1875.15" y="2686.38" width="24.6" height="24.6"/><rect x="1879.02" y="2690.77" width="24.6" height="24.6"/><rect x="1882.85" y="2695.14" width="24.6" height="24.6"/><rect x="1886.64" y="2699.48" width="24.6" height="24.6"/><rect x="1890.38" y="2703.79" width="24.6" height="24.6"/><rect x="1894.09" y="2708.1" width="24.6" height="24.6"/><rect x="1897.77" y="2712.4" width="24.6" height="24.6"/><rect x="1901.4" y="2716.69" width="24.6" height="24.6"/><rect x="1905" y="2720.97" width="24.6" height="24.6"/><rect x="1908.56" y="2725.23" width="24.6" height="24.6"/><rect x="1912.09" y="2729.48" width="24.6" height="24.6"/><rect x="1915.58" y="2733.71" width="24.6" height="24.6"/><rect x="1919.04" y="2737.92" width="24.6" height="24.6"/><rect x="1922.47" y="2742.12" width="24.6" height="24.6"/><rect x="1925.86" y="2746.3" width="24.6" height="24.6"/><rect x="1929.22" y="2750.46" width="24.6" height="24.6"/><rect x="1932.55" y="2754.6" width="24.6" height="24.6"/><rect x="1935.85" y="2758.71" width="24.6" height="24.6"/><rect x="1939.12" y="2762.8" width="24.6" height="24.6"/><rect x="1942.36" y="2766.87" width="24.6" height="24.6"/><rect x="1945.58" y="2770.92" width="24.6" height="24.6"/><rect x="1948.76" y="2774.94" width="24.6" height="24.6"/><rect x="1951.91" y="2778.94" width="24.6" height="24.6"/><rect x="1955.04" y="2782.91" width="24.6" height="24.6"/><rect x="1958.14" y="2786.85" width="24.6" height="24.6"/><rect x="1961.21" y="2790.77" width="24.6" height="24.6"/><rect x="1964.26" y="2794.66" width="24.6" height="24.6"/><rect x="1967.28" y="2798.52" width="24.6" height="24.6"/><rect x="1970.28" y="2802.35" width="24.6" height="24.6"/><rect x="1973.25" y="2806.16" width="24.6" height="24.6"/><rect x="1976.2" y="2809.94" width="24.6" height="24.6"/><rect x="1979.12" y="2813.69" width="24.6" height="24.6"/><rect x="1982.02" y="2817.41" width="24.6" height="24.6"/><rect x="1984.89" y="2821.1" width="24.6" height="24.6"/><rect x="1987.75" y="2824.76" width="24.6" height="24.6"/><rect x="1990.58" y="2828.38" width="24.6" height="24.6"/><rect x="1993.38" y="2831.98" width="24.6" height="24.6"/><rect x="1996.17" y="2835.53" width="24.6" height="24.6"/><rect x="1998.93" y="2839.07" width="24.6" height="24.6"/><rect x="2001.68" y="2842.57" width="24.6" height="24.6"/><rect x="2004.4" y="2846.06" width="24.6" height="24.6"/><rect x="2007.1" y="2849.54" width="24.6" height="24.6"/><rect x="2009.79" y="2853" width="24.6" height="24.6"/><rect x="2012.45" y="2856.45" width="24.6" height="24.6"/><rect x="2015.09" y="2859.9" width="24.6" height="24.6"/><rect x="2017.71" y="2863.35" width="24.6" height="24.6"/><rect x="2020.32" y="2866.79" width="24.6" height="24.6"/><rect x="2022.9" y="2870.25" width="24.6" height="24.6"/><rect x="2025.47" y="2873.7" width="24.6" height="24.6"/><rect x="2028.02" y="2877.17" width="24.6" height="24.6"/><rect x="2030.55" y="2880.65" width="24.6" height="24.6"/><rect x="2033.06" y="2884.14" width="24.6" height="24.6"/><rect x="2035.55" y="2887.65" width="24.6" height="24.6"/><rect x="2038.03" y="2891.18" width="24.6" height="24.6"/><rect x="2040.49" y="2894.78" width="24.6" height="24.6"/><rect x="2042.94" y="2898.48" width="24.6" height="24.6"/><rect x="2045.36" y="2902.26" width="24.6" height="24.6"/><rect x="2047.77" y="2906.08" width="24.6" height="24.6"/><rect x="2050.17" y="2909.94" width="24.6" height="24.6"/><rect x="2052.55" y="2913.82" width="24.6" height="24.6"/><rect x="2054.91" y="2917.69" width="24.6" height="24.6"/><rect x="2057.26" y="2921.55" width="24.6" height="24.6"/><rect x="2059.59" y="2925.36" width="24.6" height="24.6"/><rect x="2061.91" y="2929.12" width="24.6" height="24.6"/><rect x="2064.21" y="2932.82" width="24.6" height="24.6"/><rect x="2066.5" y="2936.43" width="24.6" height="24.6"/><rect x="2068.77" y="2939.94" width="24.6" height="24.6"/><rect x="2071.03" y="2943.34" width="24.6" height="24.6"/><rect x="2073.28" y="2946.61" width="24.6" height="24.6"/><rect x="2075.51" y="2949.75" width="24.6" height="24.6"/><rect x="2077.72" y="2952.73" width="24.6" height="24.6"/><rect x="2079.93" y="2955.58" width="24.6" height="24.6"/><rect x="2082.12" y="2958.32" width="24.6" height="24.6"/><rect x="2084.29" y="2960.95" width="24.6" height="24.6"/><rect x="2086.46" y="2963.49" width="24.6" height="24.6"/><rect x="2088.61" y="2965.95" width="24.6" height="24.6"/><rect x="2090.74" y="2968.34" width="24.6" height="24.6"/><rect x="2092.87" y="2970.67" width="24.6" height="24.6"/></g><g fill="none" stroke="#00f" stroke-width="2"><circle cx="268.5" cy="2534" r="11.5"/><circle cx="516.67" cy="2295.6" r="11.5"/><circle cx="661.84" cy="2195.6" r="11.5"/><circle cx="764.84" cy="2102.7" r="11.5"/><circle cx="844.73" cy="2059.5" r="11.5"/><circle cx="910.01" cy="2071" r="11.5"/><circle cx="965.2" cy="2087" r="11.5"/><circle cx="1013.01" cy="2112" r="11.5"/><circle cx="1055.18" cy="2099.1" r="11.5"/><circle cx="1092.9" cy="2128.6" r="11.5"/><circle cx="1127.02" cy="2157.1" r="11.5"/><circle cx="1158.18" cy="2164.8" r="11.5"/><circle cx="1186.83" cy="2174.6" r="11.5"/><circle cx="1213.37" cy="2199.6" r="11.5"/><circle cx="1238.07" cy="2222.2" r="11.5"/><circle cx="1261.18" cy="2221.3" r="11.5"/><circle cx="1282.88" cy="2241.7" r="11.5"/><circle cx="1303.35" cy="2252.4" r="11.5"/><circle cx="1322.7" cy="2279.7" r="11.5"/><circle cx="1341.07" cy="2281.3" r="11.5"/><circle cx="1358.54" cy="2292.4" r="11.5"/><circle cx="1375.19" cy="2304.33" r="11.5"/><circle cx="1391.11" cy="2316.38" r="11.5"/><circle cx="1406.35" cy="2328.44" r="11.5"/><circle cx="1420.96" cy="2340.39" r="11.5"/><circle cx="1435" cy="2352.14" r="11.5"/><circle cx="1448.52" cy="2363.64" r="11.5"/><circle cx="1461.54" cy="2374.83" r="11.5"/><circle cx="1474.1" cy="2385.68" r="11.5"/><circle cx="1486.24" cy="2396.17" r="11.5"/><circle cx="1497.98" cy="2406.27" r="11.5"/><circle cx="1509.35" cy="2416.08" r="11.5"/><circle cx="1520.36" cy="2425.79" r="11.5"/><circle cx="1531.05" cy="2435.35" r="11.5"/><circle cx="1541.43" cy="2444.73" r="11.5"/><circle cx="1551.52" cy="2453.88" r="11.5"/><circle cx="1561.33" cy="2462.79" r="11.5"/><circle cx="1570.87" cy="2471.43" r="11.5"/><circle cx="1580.17" cy="2479.79" r="11.5"/><circle cx="1589.24" cy="2487.84" r="11.5"/><circle cx="1598.08" cy="2495.59" r="11.5"/><circle cx="1606.71" cy="2503.05" r="11.5"/><circle cx="1615.13" cy="2510.26" r="11.5"/><circle cx="1623.36" cy="2517.25" r="11.5"/><circle cx="1631.41" cy="2524.04" r="11.5"/><circle cx="1639.28" cy="2530.65" r="11.5"/><circle cx="1646.98" cy="2537.11" r="11.5"/><circle cx="1654.52" cy="2543.42" r="11.5"/><circle cx="1661.9" cy="2549.61" r="11.5"/><circle cx="1669.13" cy="2555.69" r="11.5"/><circle cx="1676.22" cy="2561.68" r="11.5"/><circle cx="1683.17" cy="2567.57" r="11.5"/><circle cx="1689.99" cy="2573.39" r="11.5"/><circle cx="1696.69" cy="2579.14" r="11.5"/><circle cx="1703.26" cy="2584.83" r="11.5"/><circle cx="1709.71" cy="2590.51" r="11.5"/><circle cx="1716.04" cy="2596.15" r="11.5"/><circle cx="1722.27" cy="2601.75" r="11.5"/><circle cx="1728.39" cy="2607.29" r="11.5"/><circle cx="1734.41" cy="2612.76" r="11.5"/><circle cx="1740.33" cy="2618.16" r="11.5"/><circle cx="1746.15" cy="2623.46" r="11.5"/><circle cx="1751.88" cy="2628.67" r="11.5"/><circle cx="1757.51" cy="2633.77" r="11.5"/><circle cx="1763.07" cy="2638.77" r="11.5"/><circle cx="1768.53" cy="2643.65" r="11.5"/><circle cx="1773.92" cy="2648.4" r="11.5"/><circle cx="1779.22" cy="2653.04" r="11.5"/><circle cx="1784.45" cy="2657.54" r="11.5"/><circle cx="1789.6" cy="2661.91" r="11.5"/><circle cx="1794.68" cy="2666.15" r="11.5"/><circle cx="1799.68" cy="2670.24" r="11.5"/><circle cx="1804.62" cy="2674.24" r="11.5"/><circle cx="1809.49" cy="2678.18" r="11.5"/><circle cx="1814.3" cy="2682.05" r="11.5"/><circle cx="1819.04" cy="2685.87" r="11.5"/><circle cx="1823.72" cy="2689.61" r="11.5"/><circle cx="1828.34" cy="2693.29" r="11.5"/><circle cx="1832.9" cy="2696.9" r="11.5"/><circle cx="1837.41" cy="2700.44" r="11.5"/><circle cx="1841.86" cy="2703.91" r="11.5"/><circle cx="1846.25" cy="2707.3" r="11.5"/><circle cx="1850.59" cy="2710.62" r="11.5"/><circle cx="1854.88" cy="2713.86" r="11.5"/><circle cx="1859.11" cy="2717.03" r="11.5"/><circle cx="1863.3" cy="2720.11" r="11.5"/><circle cx="1867.44" cy="2723.12" r="11.5"/><circle cx="1871.53" cy="2726.05" r="11.5"/><circle cx="1875.58" cy="2728.9" r="11.5"/><circle cx="1879.58" cy="2731.68" r="11.5"/><circle cx="1883.53" cy="2734.37" r="11.5"/><circle cx="1887.45" cy="2736.98" r="11.5"/><circle cx="1891.32" cy="2739.51" r="11.5"/><circle cx="1895.15" cy="2741.97" r="11.5"/><circle cx="1898.94" cy="2744.34" r="11.5"/><circle cx="1902.68" cy="2746.65" r="11.5"/><circle cx="1906.39" cy="2748.9" r="11.5"/><circle cx="1910.07" cy="2751.09" r="11.5"/><circle cx="1913.7" cy="2753.24" r="11.5"/><circle cx="1917.3" cy="2755.32" r="11.5"/><circle cx="1920.86" cy="2757.35" r="11.5"/><circle cx="1924.39" cy="2759.31" r="11.5"/><circle cx="1927.88" cy="2761.21" r="11.5"/><circle cx="1931.34" cy="2763.04" r="11.5"/><circle cx="1934.77" cy="2764.81" r="11.5"/><circle cx="1938.16" cy="2766.51" r="11.5"/><circle cx="1941.52" cy="2768.14" r="11.5"/><circle cx="1944.85" cy="2769.7" r="11.5"/><circle cx="1948.15" cy="2771.19" r="11.5"/><circle cx="1951.42" cy="2772.62" r="11.5"/><circle cx="1954.66" cy="2774.02" r="11.5"/><circle cx="1957.88" cy="2775.4" r="11.5"/><circle cx="1961.06" cy="2776.77" r="11.5"/><circle cx="1964.21" cy="2778.1" r="11.5"/><circle cx="1967.34" cy="2779.4" r="11.5"/><circle cx="1970.44" cy="2780.65" r="11.5"/><circle cx="1973.51" cy="2781.87" r="11.5"/><circle cx="1976.56" cy="2783.03" r="11.5"/><circle cx="1979.58" cy="2784.14" r="11.5"/><circle cx="1982.58" cy="2785.18" r="11.5"/><circle cx="1985.55" cy="2786.17" r="11.5"/><circle cx="1988.5" cy="2787.09" r="11.5"/><circle cx="1991.42" cy="2787.93" r="11.5"/><circle cx="1994.32" cy="2788.7" r="11.5"/><circle cx="1997.19" cy="2789.4" r="11.5"/><circle cx="2000.05" cy="2790.01" r="11.5"/><circle cx="2002.88" cy="2790.58" r="11.5"/><circle cx="2005.68" cy="2791.15" r="11.5"/><circle cx="2008.47" cy="2791.71" r="11.5"/><circle cx="2011.23" cy="2792.26" r="11.5"/><circle cx="2013.98" cy="2792.8" r="11.5"/><circle cx="2016.7" cy="2793.31" r="11.5"/><circle cx="2019.4" cy="2793.81" r="11.5"/><circle cx="2022.09" cy="2794.28" r="11.5"/><circle cx="2024.75" cy="2794.72" r="11.5"/><circle cx="2027.39" cy="2795.13" r="11.5"/><circle cx="2030.01" cy="2795.51" r="11.5"/><circle cx="2032.62" cy="2795.84" r="11.5"/><circle cx="2035.2" cy="2796.15" r="11.5"/><circle cx="2037.77" cy="2796.4" r="11.5"/><circle cx="2040.32" cy="2796.62" r="11.5"/><circle cx="2042.85" cy="2796.79" r="11.5"/><circle cx="2045.36" cy="2796.91" r="11.5"/><circle cx="2047.85" cy="2796.98" r="11.5"/><circle cx="2050.33" cy="2797" r="11.5"/><circle cx="2052.79" cy="2796.98" r="11.5"/><circle cx="2055.24" cy="2796.93" r="11.5"/><circle cx="2057.66" cy="2796.86" r="11.5"/><circle cx="2060.07" cy="2796.76" r="11.5"/><circle cx="2062.47" cy="2796.64" r="11.5"/><circle cx="2064.85" cy="2796.49" r="11.5"/><circle cx="2067.21" cy="2796.32" r="11.5"/><circle cx="2069.56" cy="2796.12" r="11.5"/><circle cx="2071.89" cy="2795.91" r="11.5"/><circle cx="2074.21" cy="2795.68" r="11.5"/><circle cx="2076.51" cy="2795.42" r="11.5"/><circle cx="2078.8" cy="2795.15" r="11.5"/><circle cx="2081.07" cy="2794.82" r="11.5"/><circle cx="2083.33" cy="2794.2" r="11.5"/><circle cx="2085.58" cy="2793.32" r="11.5"/><circle cx="2087.81" cy="2792.26" r="11.5"/><circle cx="2090.02" cy="2791.13" r="11.5"/><circle cx="2092.23" cy="2789.99" r="11.5"/><circle cx="2094.42" cy="2788" r="11.5"/><circle cx="2096.59" cy="2785" r="11.5"/><circle cx="2098.76" cy="2780" r="11.5"/><circle cx="2100.91" cy="2775" r="11.5"/><circle cx="2103.04" cy="2766" r="11.5"/><circle cx="2105.17" cy="2754.5" r="11.5"/></g><g fill="#00f"><rect x="267.5" y="2533" width="2" height="2"/><rect x="515.67" y="2294.6" width="2" height="2"/><rect x="660.84" y="2194.6" width="2" height="2"/><rect x="763.84" y="2101.7" width="2" height="2"/><rect x="843.73" y="2058.5" width="2" height="2"/><rect x="909.01" y="2070" width="2" height="2"/><rect x="964.2" y="2086" width="2" height="2"/><rect x="1012.01" y="2111" width="2" height="2"/><rect x="1054.18" y="2098.1" width="2" height="2"/><rect x="1091.9" y="2127.6" width="2" height="2"/><rect x="1126.02" y="2156.1" width="2" height="2"/><rect x="1157.18" y="2163.8" width="2" height="2"/><rect x="1185.83" y="2173.6" width="2" height="2"/><rect x="1212.37" y="2198.6" width="2" height="2"/><rect x="1237.07" y="2221.2" width="2" height="2"/><rect x="1260.18" y="2220.3" width="2" height="2"/><rect x="1281.88" y="2240.7" width="2" height="2"/><rect x="1302.35" y="2251.4" width="2" height="2"/><rect x="1321.7" y="2278.7" width="2" height="2"/><rect x="1340.07" y="2280.3" width="2" height="2"/><rect x="1357.54" y="2291.4" width="2" height="2"/><rect x="1374.19" y="2303.33" width="2" height="2"/><rect x="1390.11" y="2315.38" width="2" height="2"/><rect x="1405.35" y="2327.44" width="2" height="2"/><rect x="1419.96" y="2339.39" width="2" height="2"/><rect x="1434" y="2351.14" width="2" height="2"/><rect x="1447.52" y="2362.64" width="2" height="2"/><rect x="1460.54" y="2373.83" width="2" height="2"/><rect x="1473.1" y="2384.68" width="2" height="2"/><rect x="1485.24" y="2395.17" width="2" height="2"/><rect x="1496.98" y="2405.27" width="2" height="2"/><rect x="1508.35" y="2415.08" width="2" height="2"/><rect x="1519.36" y="2424.79" width="2" height="2"/><rect x="1530.05" y="2434.35" width="2" height="2"/><rect x="1540.43" y="2443.73" width="2" height="2"/><rect x="1550.52" y="2452.88" width="2" height="2"/><rect x="1560.33" y="2461.79" width="2" height="2"/><rect x="1569.87" y="2470.43" width="2" height="2"/><rect x="1579.17" y="2478.79" width="2" height="2"/><rect x="1588.24" y="2486.84" width="2" height="2"/><rect x="1597.08" y="2494.59" width="2" height="2"/><rect x="1605.71" y="2502.05" width="2" height="2"/><rect x="1614.13" y="2509.26" width="2" height="2"/><rect x="1622.36" y="2516.25" width="2" height="2"/><rect x="1630.41" y="2523.04" width="2" height="2"/><rect x="1638.28" y="2529.65" width="2" height="2"/><rect x="1645.98" y="2536.11" width="2" height="2"/><rect x="1653.52" y="2542.42" width="2" height="2"/><rect x="1660.9" y="2548.61" width="2" height="2"/><rect x="1668.13" y="2554.69" width="2" height="2"/><rect x="1675.22" y="2560.68" width="2" height="2"/><rect x="1682.17" y="2566.57" width="2" height="2"/><rect x="1688.99" y="2572.39" width="2" height="2"/><rect x="1695.69" y="2578.14" width="2" height="2"/><rect x="1702.26" y="2583.83" width="2" height="2"/><rect x="1708.71" y="2589.51" width="2" height="2"/><rect x="1715.04" y="2595.15" width="2" height="2"/><rect x="1721.27" y="2600.75" width="2" height="2"/><rect x="1727.39" y="2606.29" width="2" height="2"/><rect x="1733.41" y="2611.76" width="2" height="2"/><rect x="1739.33" y="2617.16" width="2" height="2"/><rect x="1745.15" y="2622.46" width="2" height="2"/><rect x="1750.88" y="2627.67" width="2" height="2"/><rect x="1756.51" y="2632.77" width="2" height="2"/><rect x="1762.07" y="2637.77" width="2" height="2"/><rect x="1767.53" y="2642.65" width="2" height="2"/><rect x="1772.92" y="2647.4" width="2" height="2"/><rect x="1778.22" y="2652.04" width="2" height="2"/><rect x="1783.45" y="2656.54" width="2" height="2"/><rect x="1788.6" y="2660.91" width="2" height="2"/><rect x="1793.68" y="2665.15" width="2" height="2"/><rect x="1798.68" y="2669.24" width="2" height="2"/><rect x="1803.62" y="2673.24" width="2" height="2"/><rect x="1808.49" y="2677.18" width="2" height="2"/><rect x="1813.3" y="2681.05" width="2" height="2"/><rect x="1818.04" y="2684.87" width="2" height="2"/><rect x="1822.72" y="2688.61" width="2" height="2"/><rect x="1827.34" y="2692.29" width="2" height="2"/><rect x="1831.9" y="2695.9" width="2" height="2"/><rect x="1836.41" y="2699.44" width="2" height="2"/><rect x="1840.86" y="2702.91" width="2" height="2"/><rect x="1845.25" y="2706.3" width="2" height="2"/><rect x="1849.59" y="2709.62" width="2" height="2"/><rect x="1853.88" y="2712.86" width="2" height="2"/><rect x="1858.11" y="2716.03" width="2" height="2"/><rect x="1862.3" y="2719.11" width="2" height="2"/><rect x="1866.44" y="2722.12" width="2" height="2"/><rect x="1870.53" y="2725.05" width="2" height="2"/><rect x="1874.58" y="2727.9" width="2" height="2"/><rect x="1878.58" y="2730.68" width="2" height="2"/><rect x="1882.53" y="2733.37" width="2" height="2"/><rect x="1886.45" y="2735.98" width="2" height="2"/><rect x="1890.32" y="2738.51" width="2" height="2"/><rect x="1894.15" y="2740.97" width="2" height="2"/><rect x="1897.94" y="2743.34" width="2" height="2"/><rect x="1901.68" y="2745.65" width="2" height="2"/><rect x="1905.39" y="2747.9" width="2" height="2"/><rect x="1909.07" y="2750.09" width="2" height="2"/><rect x="1912.7" y="2752.24" width="2" height="2"/><rect x="1916.3" y="2754.32" width="2" height="2"/><rect x="1919.86" y="2756.35" width="2" height="2"/><rect x="1923.39" y="2758.31" width="2" height="2"/><rect x="1926.88" y="2760.21" width="2" height="2"/><rect x="1930.34" y="2762.04" width="2" height="2"/><rect x="1933.77" y="2763.81" width="2" height="2"/><rect x="1937.16" y="2765.51" width="2" height="2"/><rect x="1940.52" y="2767.14" width="2" height="2"/><rect x="1943.85" y="2768.7" width="2" height="2"/><rect x="1947.15" y="2770.19" width="2" height="2"/><rect x="1950.42" y="2771.62" width="2" height="2"/><rect x="1953.66" y="2773.02" width="2" height="2"/><rect x="1956.88" y="2774.4" width="2" height="2"/><rect x="1960.06" y="2775.77" width="2" height="2"/><rect x="1963.21" y="2777.1" width="2" height="2"/><rect x="1966.34" y="2778.4" width="2" height="2"/><rect x="1969.44" y="2779.65" width="2" height="2"/><rect x="1972.51" y="2780.87" width="2" height="2"/><rect x="1975.56" y="2782.03" width="2" height="2"/><rect x="1978.58" y="2783.14" width="2" height="2"/><rect x="1981.58" y="2784.18" width="2" height="2"/><rect x="1984.55" y="2785.17" width="2" height="2"/><rect x="1987.5" y="2786.09" width="2" height="2"/><rect x="1990.42" y="2786.93" width="2" height="2"/><rect x="1993.32" y="2787.7" width="2" height="2"/><rect x="1996.19" y="2788.4" width="2" height="2"/><rect x="1999.05" y="2789.01" width="2" height="2"/><rect x="2001.88" y="2789.58" width="2" height="2"/><rect x="2004.68" y="2790.15" width="2" height="2"/><rect x="2007.47" y="2790.71" width="2" height="2"/><rect x="2010.23" y="2791.26" width="2" height="2"/><rect x="2012.98" y="2791.8" width="2" height="2"/><rect x="2015.7" y="2792.31" width="2" height="2"/><rect x="2018.4" y="2792.81" width="2" height="2"/><rect x="2021.09" y="2793.28" width="2" height="2"/><rect x="2023.75" y="2793.72" width="2" height="2"/><rect x="2026.39" y="2794.13" width="2" height="2"/><rect x="2029.01" y="2794.51" width="2" height="2"/><rect x="2031.62" y="2794.84" width="2" height="2"/><rect x="2034.2" y="2795.15" width="2" height="2"/><rect x="2036.77" y="2795.4" width="2" height="2"/><rect x="2039.32" y="2795.62" width="2" height="2"/><rect x="2041.85" y="2795.79" width="2" height="2"/><rect x="2044.36" y="2795.91" width="2" height="2"/><rect x="2046.85" y="2795.98" width="2" height="2"/><rect x="2049.33" y="2796" width="2" height="2"/><rect x="2051.79" y="2795.98" width="2" height="2"/><rect x="2054.24" y="2795.93" width="2" height="2"/><rect x="2056.66" y="2795.86" width="2" height="2"/><rect x="2059.07" y="2795.76" width="2" height="2"/><rect x="2061.47" y="2795.64" width="2" height="2"/><rect x="2063.85" y="2795.49" width="2" height="2"/><rect x="2066.21" y="2795.32" width="2" height="2"/><rect x="2068.56" y="2795.12" width="2" height="2"/><rect x="2070.89" y="2794.91" width="2" height="2"/><rect x="2073.21" y="2794.68" width="2" height="2"/><rect x="2075.51" y="2794.42" width="2" height="2"/><rect x="2077.8" y="2794.15" width="2" height="2"/><rect x="2080.07" y="2793.82" width="2" height="2"/><rect x="2082.33" y="2793.2" width="2" height="2"/><rect x="2084.58" y="2792.32" width="2" height="2"/><rect x="2086.81" y="2791.26" width="2" height="2"/><rect x="2089.02" y="2790.13" width="2" height="2"/><rect x="2091.23" y="2788.99" width="2" height="2"/><rect x="2093.42" y="2787" width="2" height="2"/><rect x="2095.59" y="2784" width="2" height="2"/><rect x="2097.76" y="2779" width="2" height="2"/><rect x="2099.91" y="2774" width="2" height="2"/><rect x="2102.04" y="2765" width="2" height="2"/><rect x="2104.17" y="2753.5" width="2" height="2"/></g><g fill="#0ff"><circle cx="268.5" cy="2533.4" r="12.3"/><circle cx="516.67" cy="2295.6" r="12.3"/><circle cx="661.84" cy="2195.6" r="12.3"/><circle cx="764.84" cy="2102.7" r="12.3"/><circle cx="844.73" cy="2059.5" r="12.3"/><circle cx="910.01" cy="2069.9" r="12.3"/><circle cx="965.2" cy="2084.4" r="12.3"/><circle cx="1013.01" cy="2108.5" r="12.3"/><circle cx="1055.18" cy="2096.1" r="12.3"/><circle cx="1092.9" cy="2124.8" r="12.3"/><circle cx="1127.02" cy="2150.5" r="12.3"/><circle cx="1158.18" cy="2160.6" r="12.3"/><circle cx="1186.83" cy="2173.2" r="12.3"/><circle cx="1213.37" cy="2193.8" r="12.3"/><circle cx="1238.07" cy="2218.2" r="12.3"/><circle cx="1261.18" cy="2216.2" r="12.3"/><circle cx="1282.88" cy="2233.8" r="12.3"/><circle cx="1303.35" cy="2245.5" r="12.3"/><circle cx="1322.7" cy="2270.8" r="12.3"/><circle cx="1341.07" cy="2274.7" r="12.3"/><circle cx="1358.54" cy="2283.5" r="12.3"/><circle cx="1375.19" cy="2303.9" r="12.3"/><circle cx="1391.11" cy="2311.7" r="12.3"/><circle cx="1406.35" cy="2326.3" r="12.3"/><circle cx="1420.96" cy="2330.2" r="12.3"/><circle cx="1435" cy="2344.8" r="12.3"/><circle cx="1448.52" cy="2358.5" r="12.3"/><circle cx="1461.54" cy="2364.3" r="12.3"/><circle cx="1474.1" cy="2374" r="12.3"/><circle cx="1486.24" cy="2382.8" r="12.3"/><circle cx="1497.98" cy="2399.29" r="12.3"/><circle cx="1509.35" cy="2411.74" r="12.3"/><circle cx="1520.36" cy="2422.32" r="12.3"/><circle cx="1531.05" cy="2431.66" r="12.3"/><circle cx="1541.43" cy="2440.07" r="12.3"/><circle cx="1551.52" cy="2447.86" r="12.3"/><circle cx="1561.33" cy="2455.27" r="12.3"/><circle cx="1570.87" cy="2462.49" r="12.3"/><circle cx="1580.17" cy="2469.72" r="12.3"/><circle cx="1589.24" cy="2477.1" r="12.3"/><circle cx="1598.08" cy="2484.76" r="12.3"/><circle cx="1606.71" cy="2492.67" r="12.3"/><circle cx="1615.13" cy="2500.57" r="12.3"/><circle cx="1623.36" cy="2508.42" r="12.3"/><circle cx="1631.41" cy="2516.21" r="12.3"/><circle cx="1639.28" cy="2523.93" r="12.3"/><circle cx="1646.98" cy="2531.57" r="12.3"/><circle cx="1654.52" cy="2539.11" r="12.3"/><circle cx="1661.9" cy="2546.56" r="12.3"/><circle cx="1669.13" cy="2553.9" r="12.3"/><circle cx="1676.22" cy="2561.13" r="12.3"/><circle cx="1683.17" cy="2568.24" r="12.3"/><circle cx="1689.99" cy="2575.23" r="12.3"/><circle cx="1696.69" cy="2582.1" r="12.3"/><circle cx="1703.26" cy="2588.85" r="12.3"/><circle cx="1709.71" cy="2595.56" r="12.3"/><circle cx="1716.04" cy="2602.21" r="12.3"/><circle cx="1722.27" cy="2608.81" r="12.3"/><circle cx="1728.39" cy="2615.35" r="12.3"/><circle cx="1734.41" cy="2621.81" r="12.3"/><circle cx="1740.33" cy="2628.19" r="12.3"/><circle cx="1746.15" cy="2634.48" r="12.3"/><circle cx="1751.88" cy="2640.68" r="12.3"/><circle cx="1757.51" cy="2646.78" r="12.3"/><circle cx="1763.07" cy="2652.78" r="12.3"/><circle cx="1768.53" cy="2658.68" r="12.3"/><circle cx="1773.92" cy="2664.47" r="12.3"/><circle cx="1779.22" cy="2670.14" r="12.3"/><circle cx="1784.45" cy="2675.7" r="12.3"/><circle cx="1789.6" cy="2681.14" r="12.3"/><circle cx="1794.68" cy="2686.47" r="12.3"/><circle cx="1799.68" cy="2691.67" r="12.3"/><circle cx="1804.62" cy="2696.77" r="12.3"/><circle cx="1809.49" cy="2701.79" r="12.3"/><circle cx="1814.3" cy="2706.73" r="12.3"/><circle cx="1819.04" cy="2711.58" r="12.3"/><circle cx="1823.72" cy="2716.37" r="12.3"/><circle cx="1828.34" cy="2721.07" r="12.3"/><circle cx="1832.9" cy="2725.71" r="12.3"/><circle cx="1837.41" cy="2730.27" r="12.3"/><circle cx="1841.86" cy="2734.76" r="12.3"/><circle cx="1846.25" cy="2739.19" r="12.3"/><circle cx="1850.59" cy="2743.56" r="12.3"/><circle cx="1854.88" cy="2747.86" r="12.3"/><circle cx="1859.11" cy="2752.1" r="12.3"/><circle cx="1863.3" cy="2756.28" r="12.3"/><circle cx="1867.44" cy="2760.4" r="12.3"/><circle cx="1871.53" cy="2764.47" r="12.3"/><circle cx="1875.58" cy="2768.48" r="12.3"/><circle cx="1879.58" cy="2772.44" r="12.3"/><circle cx="1883.53" cy="2776.34" r="12.3"/><circle cx="1887.45" cy="2780.2" r="12.3"/><circle cx="1891.32" cy="2784" r="12.3"/><circle cx="1895.15" cy="2787.75" r="12.3"/><circle cx="1898.94" cy="2791.46" r="12.3"/><circle cx="1902.68" cy="2795.13" r="12.3"/><circle cx="1906.39" cy="2798.8" r="12.3"/><circle cx="1910.07" cy="2802.46" r="12.3"/><circle cx="1913.7" cy="2806.1" r="12.3"/><circle cx="1917.3" cy="2809.73" r="12.3"/><circle cx="1920.86" cy="2813.34" r="12.3"/><circle cx="1924.39" cy="2816.92" r="12.3"/><circle cx="1927.88" cy="2820.46" r="12.3"/><circle cx="1931.34" cy="2823.98" r="12.3"/><circle cx="1934.77" cy="2827.45" r="12.3"/><circle cx="1938.16" cy="2830.89" r="12.3"/><circle cx="1941.52" cy="2834.28" r="12.3"/><circle cx="1944.85" cy="2837.63" r="12.3"/><circle cx="1948.15" cy="2840.92" r="12.3"/><circle cx="1951.42" cy="2844.17" r="12.3"/><circle cx="1954.66" cy="2847.36" r="12.3"/><circle cx="1957.88" cy="2850.49" r="12.3"/><circle cx="1961.06" cy="2853.57" r="12.3"/><circle cx="1964.21" cy="2856.58" r="12.3"/><circle cx="1967.34" cy="2859.54" r="12.3"/><circle cx="1970.44" cy="2862.43" r="12.3"/><circle cx="1973.51" cy="2865.25" r="12.3"/><circle cx="1976.56" cy="2868.01" r="12.3"/><circle cx="1979.58" cy="2870.7" r="12.3"/><circle cx="1982.58" cy="2873.32" r="12.3"/><circle cx="1985.55" cy="2875.87" r="12.3"/><circle cx="1988.5" cy="2878.35" r="12.3"/><circle cx="1991.42" cy="2880.76" r="12.3"/><circle cx="1994.32" cy="2883.09" r="12.3"/><circle cx="1997.19" cy="2885.35" r="12.3"/><circle cx="2000.05" cy="2887.53" r="12.3"/><circle cx="2002.88" cy="2889.64" r="12.3"/><circle cx="2005.68" cy="2891.67" r="12.3"/><circle cx="2008.47" cy="2893.63" r="12.3"/><circle cx="2011.23" cy="2895.52" r="12.3"/><circle cx="2013.98" cy="2897.36" r="12.3"/><circle cx="2016.7" cy="2899.14" r="12.3"/><circle cx="2019.4" cy="2900.88" r="12.3"/><circle cx="2022.09" cy="2902.59" r="12.3"/><circle cx="2024.75" cy="2904.26" r="12.3"/><circle cx="2027.39" cy="2905.9" r="12.3"/><circle cx="2030.01" cy="2907.52" r="12.3"/><circle cx="2032.62" cy="2909.12" r="12.3"/><circle cx="2035.2" cy="2910.71" r="12.3"/><circle cx="2037.77" cy="2912.29" r="12.3"/><circle cx="2040.32" cy="2913.87" r="12.3"/><circle cx="2042.85" cy="2915.44" r="12.3"/><circle cx="2045.36" cy="2917.02" r="12.3"/><circle cx="2047.85" cy="2918.61" r="12.3"/><circle cx="2050.33" cy="2920.22" r="12.3"/><circle cx="2052.79" cy="2921.82" r="12.3"/><circle cx="2055.24" cy="2923.42" r="12.3"/><circle cx="2057.66" cy="2925.02" r="12.3"/><circle cx="2060.07" cy="2926.61" r="12.3"/><circle cx="2062.47" cy="2928.2" r="12.3"/><circle cx="2064.85" cy="2929.77" r="12.3"/><circle cx="2067.21" cy="2931.33" r="12.3"/><circle cx="2069.56" cy="2932.88" r="12.3"/><circle cx="2071.89" cy="2934.42" r="12.3"/><circle cx="2074.21" cy="2935.94" r="12.3"/><circle cx="2076.51" cy="2937.44" r="12.3"/><circle cx="2078.8" cy="2938.92" r="12.3"/><circle cx="2081.07" cy="2940.38" r="12.3"/><circle cx="2083.33" cy="2941.83" r="12.3"/><circle cx="2085.58" cy="2943.25" r="12.3"/><circle cx="2087.81" cy="2944.64" r="12.3"/><circle cx="2090.02" cy="2946.01" r="12.3"/><circle cx="2092.23" cy="2947.36" r="12.3"/><circle cx="2094.42" cy="2948.68" r="12.3"/><circle cx="2096.59" cy="2949.98" r="12.3"/><circle cx="2098.76" cy="2951.26" r="12.3"/><circle cx="2100.91" cy="2952.51" r="12.3"/><circle cx="2103.04" cy="2953.76" r="12.3"/><circle cx="2105.17" cy="2954.98" r="12.3"/></g><clipPath id="cp1"><rect x="268.5" y="1863" width="1836.5" height="1277"/></clipPath><path clip-path="url(#cp1)" d="M763.2 1863L2105 2729.43" stroke="#000" stroke-width="2.3" stroke-dasharray="7.2 11.3" fill="none"/><path clip-path="url(#cp1)" d="M857.8 1863L2105 2990.48" stroke="#00f" stroke-width="4" stroke-dasharray="7.2 8.1" fill="none"/><text x="566.2" y="2864.8" font-size="62" text-anchor="end">iMHD-2</text><g fill="#f00"><rect x="671.2" y="2831.7" width="24.6" height="24.6"/></g><text x="566.2" y="2926.2" font-size="62" text-anchor="end">iHMHD-2</text><g fill="none" stroke="#00f" stroke-width="2"><circle cx="683.5" cy="2905.4" r="11.5"/></g><g fill="#00f"><rect x="682.5" y="2904.4" width="2" height="2"/></g><text x="566.2" y="2988" font-size="62" text-anchor="end">iXMHD-2</text><g fill="#0ff"><circle cx="683.5" cy="2967.2" r="12.3"/></g><text x="563.4" y="3055" font-size="62" text-anchor="end">k<tspan font-size="50" dy="-30.1">-5/3</tspan></text><path d="M599.9 3028.4H768" stroke="#000" stroke-width="2.2" stroke-dasharray="7.2 11.3" fill="none"/><text x="563.4" y="3116.8" font-size="62" text-anchor="end">k<tspan font-size="50" dy="-30.1">-7/3</tspan></text><path d="M599.9 3090.2H760" stroke="#00f" stroke-width="4" stroke-dasharray="7.2 8.1" fill="none"/><rect x="268.5" y="1863" width="1836.5" height="1277" fill="none" stroke="#000" stroke-width="4.5"/><text x="128.5" y="2999.9" font-size="62">10<tspan font-size="50" dy="-30.5">-4</tspan></text><text x="128.5" y="2680.5" font-size="62">10<tspan font-size="50" dy="-30.5">-3</tspan></text><text x="128.5" y="2361.1" font-size="62">10<tspan font-size="50" dy="-30.5">-2</tspan></text><text x="128.5" y="2041.7" font-size="62">10<tspan font-size="50" dy="-30.5">-1</tspan></text><text x="276.2" y="3221.9" font-size="62" text-anchor="middle">1</text><text x="1100.6" y="3221.9" font-size="62" text-anchor="middle">10</text><text x="1925" y="3221.9" font-size="62" text-anchor="middle">100</text><text x="1186.5" y="3313.8" font-size="62" text-anchor="middle">k</text><text transform="translate(67.7 2503) rotate(-90)" font-size="62" text-anchor="middle">E<tspan font-size="50" dy="17.6">M</tspan><tspan dy="-17.6">(k,t) at t=0.96</tspan></text><text y="1762.8" font-size="84"><tspan x="1061.2">(</tspan><tspan x="1088.5" font-size="82" font-weight="bold">b</tspan><tspan x="1138.2">)</tspan></text></svg></body></html>
